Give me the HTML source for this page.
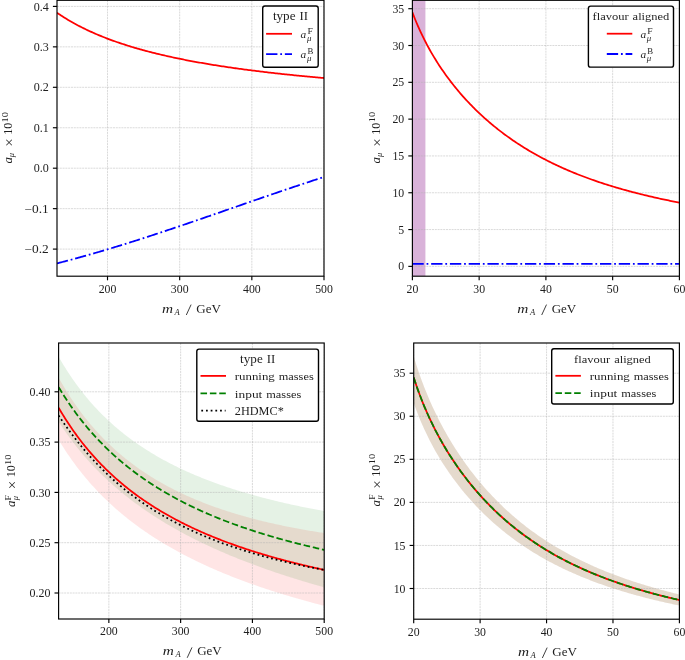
<!DOCTYPE html>
<html><head><meta charset="utf-8"><title>a_mu plots</title>
<style>html,body{margin:0;padding:0;background:#fff;width:685px;height:660px;overflow:hidden}svg{display:block;will-change:transform}text{font-family:"Liberation Serif",serif}</style>
</head><body>
<svg width="685" height="660" viewBox="0 0 685 660" font-family="Liberation Serif, serif" fill="#1e1e1e">
<rect width="685" height="660" fill="#fff"/>
<defs>
<clipPath id="c1"><rect x="57.00" y="0.30" width="267.00" height="275.90"/></clipPath>
<clipPath id="c2"><rect x="412.40" y="0.30" width="267.00" height="275.90"/></clipPath>
<clipPath id="c3"><rect x="58.60" y="343.00" width="265.60" height="276.00"/></clipPath>
<clipPath id="c4"><rect x="413.70" y="343.00" width="265.70" height="276.20"/></clipPath>
</defs>
<g clip-path="url(#c1)">
<line x1="107.51" y1="0.30" x2="107.51" y2="276.20" stroke="#b0b0b0" stroke-opacity="0.6" stroke-width="0.8" stroke-dasharray="2.0 0.8"/>
<line x1="179.68" y1="0.30" x2="179.68" y2="276.20" stroke="#b0b0b0" stroke-opacity="0.6" stroke-width="0.8" stroke-dasharray="2.0 0.8"/>
<line x1="251.84" y1="0.30" x2="251.84" y2="276.20" stroke="#b0b0b0" stroke-opacity="0.6" stroke-width="0.8" stroke-dasharray="2.0 0.8"/>
<line x1="324.00" y1="0.30" x2="324.00" y2="276.20" stroke="#b0b0b0" stroke-opacity="0.6" stroke-width="0.8" stroke-dasharray="2.0 0.8"/>
<line x1="57.00" y1="249.10" x2="324.00" y2="249.10" stroke="#b0b0b0" stroke-opacity="0.6" stroke-width="0.8" stroke-dasharray="2.0 0.8"/>
<line x1="57.00" y1="208.65" x2="324.00" y2="208.65" stroke="#b0b0b0" stroke-opacity="0.6" stroke-width="0.8" stroke-dasharray="2.0 0.8"/>
<line x1="57.00" y1="168.20" x2="324.00" y2="168.20" stroke="#b0b0b0" stroke-opacity="0.6" stroke-width="0.8" stroke-dasharray="2.0 0.8"/>
<line x1="57.00" y1="127.75" x2="324.00" y2="127.75" stroke="#b0b0b0" stroke-opacity="0.6" stroke-width="0.8" stroke-dasharray="2.0 0.8"/>
<line x1="57.00" y1="87.30" x2="324.00" y2="87.30" stroke="#b0b0b0" stroke-opacity="0.6" stroke-width="0.8" stroke-dasharray="2.0 0.8"/>
<line x1="57.00" y1="46.85" x2="324.00" y2="46.85" stroke="#b0b0b0" stroke-opacity="0.6" stroke-width="0.8" stroke-dasharray="2.0 0.8"/>
<line x1="57.00" y1="6.40" x2="324.00" y2="6.40" stroke="#b0b0b0" stroke-opacity="0.6" stroke-width="0.8" stroke-dasharray="2.0 0.8"/>
<path d="M57.00,12.79 L58.34,13.70 L59.68,14.60 L61.03,15.49 L62.37,16.35 L63.71,17.21 L65.05,18.04 L66.39,18.87 L67.73,19.68 L69.08,20.47 L70.42,21.25 L71.76,22.02 L73.10,22.78 L74.44,23.52 L75.78,24.25 L77.13,24.97 L78.47,25.68 L79.81,26.38 L81.15,27.06 L82.49,27.74 L83.83,28.40 L85.18,29.06 L86.52,29.70 L87.86,30.34 L89.20,30.96 L90.54,31.58 L91.88,32.18 L93.23,32.78 L94.57,33.37 L95.91,33.95 L97.25,34.52 L98.59,35.09 L99.93,35.64 L101.28,36.19 L102.62,36.73 L103.96,37.27 L105.30,37.79 L106.64,38.31 L107.98,38.82 L109.33,39.33 L110.67,39.82 L112.01,40.32 L113.35,40.80 L114.69,41.28 L116.04,41.75 L117.38,42.22 L118.72,42.68 L120.06,43.13 L121.40,43.58 L122.74,44.03 L124.09,44.46 L125.43,44.90 L126.77,45.32 L128.11,45.74 L129.45,46.16 L130.79,46.57 L132.14,46.98 L133.48,47.38 L134.82,47.78 L136.16,48.17 L137.50,48.56 L138.84,48.94 L140.19,49.32 L141.53,49.69 L142.87,50.06 L144.21,50.43 L145.55,50.79 L146.89,51.15 L148.24,51.50 L149.58,51.85 L150.92,52.20 L152.26,52.54 L153.60,52.88 L154.94,53.21 L156.29,53.54 L157.63,53.87 L158.97,54.19 L160.31,54.51 L161.65,54.83 L162.99,55.14 L164.34,55.45 L165.68,55.76 L167.02,56.06 L168.36,56.37 L169.70,56.66 L171.05,56.96 L172.39,57.25 L173.73,57.54 L175.07,57.82 L176.41,58.11 L177.75,58.39 L179.10,58.66 L180.44,58.94 L181.78,59.21 L183.12,59.48 L184.46,59.75 L185.80,60.01 L187.15,60.27 L188.49,60.53 L189.83,60.79 L191.17,61.04 L192.51,61.29 L193.85,61.54 L195.20,61.79 L196.54,62.03 L197.88,62.27 L199.22,62.51 L200.56,62.75 L201.90,62.99 L203.25,63.22 L204.59,63.45 L205.93,63.68 L207.27,63.91 L208.61,64.13 L209.95,64.36 L211.30,64.58 L212.64,64.80 L213.98,65.01 L215.32,65.23 L216.66,65.44 L218.01,65.65 L219.35,65.86 L220.69,66.07 L222.03,66.28 L223.37,66.48 L224.71,66.69 L226.06,66.89 L227.40,67.09 L228.74,67.28 L230.08,67.48 L231.42,67.67 L232.76,67.87 L234.11,68.06 L235.45,68.25 L236.79,68.43 L238.13,68.62 L239.47,68.80 L240.81,68.99 L242.16,69.17 L243.50,69.35 L244.84,69.53 L246.18,69.71 L247.52,69.88 L248.86,70.06 L250.21,70.23 L251.55,70.40 L252.89,70.57 L254.23,70.74 L255.57,70.91 L256.91,71.08 L258.26,71.24 L259.60,71.40 L260.94,71.57 L262.28,71.73 L263.62,71.89 L264.96,72.05 L266.31,72.21 L267.65,72.36 L268.99,72.52 L270.33,72.67 L271.67,72.82 L273.02,72.98 L274.36,73.13 L275.70,73.28 L277.04,73.42 L278.38,73.57 L279.72,73.72 L281.07,73.86 L282.41,74.01 L283.75,74.15 L285.09,74.29 L286.43,74.43 L287.77,74.57 L289.12,74.71 L290.46,74.85 L291.80,74.99 L293.14,75.12 L294.48,75.26 L295.82,75.39 L297.17,75.53 L298.51,75.66 L299.85,75.79 L301.19,75.92 L302.53,76.05 L303.87,76.18 L305.22,76.30 L306.56,76.43 L307.90,76.56 L309.24,76.68 L310.58,76.81 L311.92,76.93 L313.27,77.05 L314.61,77.17 L315.95,77.29 L317.29,77.41 L318.63,77.53 L319.97,77.65 L321.32,77.77 L322.66,77.89 L324.00,78.00" fill="none" stroke="#ff0000" stroke-width="1.77"/>
<path d="M57.00,263.37 L58.34,263.03 L59.68,262.69 L61.03,262.34 L62.37,262.00 L63.71,261.65 L65.05,261.30 L66.39,260.95 L67.73,260.59 L69.08,260.24 L70.42,259.88 L71.76,259.52 L73.10,259.16 L74.44,258.79 L75.78,258.43 L77.13,258.06 L78.47,257.70 L79.81,257.33 L81.15,256.95 L82.49,256.58 L83.83,256.21 L85.18,255.83 L86.52,255.45 L87.86,255.07 L89.20,254.69 L90.54,254.31 L91.88,253.93 L93.23,253.54 L94.57,253.15 L95.91,252.76 L97.25,252.37 L98.59,251.98 L99.93,251.59 L101.28,251.19 L102.62,250.80 L103.96,250.40 L105.30,250.00 L106.64,249.60 L107.98,249.20 L109.33,248.80 L110.67,248.39 L112.01,247.99 L113.35,247.58 L114.69,247.17 L116.04,246.76 L117.38,246.35 L118.72,245.94 L120.06,245.53 L121.40,245.11 L122.74,244.70 L124.09,244.28 L125.43,243.86 L126.77,243.45 L128.11,243.02 L129.45,242.60 L130.79,242.18 L132.14,241.76 L133.48,241.33 L134.82,240.91 L136.16,240.48 L137.50,240.05 L138.84,239.62 L140.19,239.19 L141.53,238.76 L142.87,238.33 L144.21,237.90 L145.55,237.46 L146.89,237.03 L148.24,236.59 L149.58,236.16 L150.92,235.72 L152.26,235.28 L153.60,234.84 L154.94,234.40 L156.29,233.96 L157.63,233.52 L158.97,233.07 L160.31,232.63 L161.65,232.19 L162.99,231.74 L164.34,231.30 L165.68,230.85 L167.02,230.40 L168.36,229.95 L169.70,229.50 L171.05,229.05 L172.39,228.60 L173.73,228.15 L175.07,227.70 L176.41,227.25 L177.75,226.80 L179.10,226.34 L180.44,225.89 L181.78,225.44 L183.12,224.98 L184.46,224.53 L185.80,224.07 L187.15,223.61 L188.49,223.16 L189.83,222.70 L191.17,222.24 L192.51,221.78 L193.85,221.32 L195.20,220.86 L196.54,220.40 L197.88,219.94 L199.22,219.48 L200.56,219.02 L201.90,218.56 L203.25,218.10 L204.59,217.64 L205.93,217.17 L207.27,216.71 L208.61,216.25 L209.95,215.79 L211.30,215.32 L212.64,214.86 L213.98,214.40 L215.32,213.93 L216.66,213.47 L218.01,213.00 L219.35,212.54 L220.69,212.07 L222.03,211.61 L223.37,211.14 L224.71,210.68 L226.06,210.21 L227.40,209.75 L228.74,209.28 L230.08,208.82 L231.42,208.35 L232.76,207.89 L234.11,207.42 L235.45,206.95 L236.79,206.49 L238.13,206.02 L239.47,205.56 L240.81,205.09 L242.16,204.63 L243.50,204.16 L244.84,203.70 L246.18,203.23 L247.52,202.77 L248.86,202.30 L250.21,201.84 L251.55,201.37 L252.89,200.91 L254.23,200.45 L255.57,199.98 L256.91,199.52 L258.26,199.06 L259.60,198.59 L260.94,198.13 L262.28,197.67 L263.62,197.21 L264.96,196.75 L266.31,196.28 L267.65,195.82 L268.99,195.36 L270.33,194.90 L271.67,194.44 L273.02,193.98 L274.36,193.52 L275.70,193.07 L277.04,192.61 L278.38,192.15 L279.72,191.69 L281.07,191.24 L282.41,190.78 L283.75,190.32 L285.09,189.87 L286.43,189.41 L287.77,188.96 L289.12,188.51 L290.46,188.05 L291.80,187.60 L293.14,187.15 L294.48,186.70 L295.82,186.25 L297.17,185.80 L298.51,185.35 L299.85,184.90 L301.19,184.46 L302.53,184.01 L303.87,183.56 L305.22,183.12 L306.56,182.67 L307.90,182.23 L309.24,181.79 L310.58,181.34 L311.92,180.90 L313.27,180.46 L314.61,180.02 L315.95,179.58 L317.29,179.15 L318.63,178.71 L319.97,178.27 L321.32,177.84 L322.66,177.41 L324.00,176.97" fill="none" stroke="#0000ff" stroke-width="1.77" stroke-dasharray="11.33 2.83 1.77 2.83"/>
</g>
<line x1="107.51" y1="276.20" x2="107.51" y2="280.30" stroke="#000" stroke-width="1.15"/>
<text x="98.66" y="292.60" font-size="11.6" textLength="17.70" lengthAdjust="spacingAndGlyphs">200</text>
<line x1="179.68" y1="276.20" x2="179.68" y2="280.30" stroke="#000" stroke-width="1.15"/>
<text x="170.83" y="292.60" font-size="11.6" textLength="17.70" lengthAdjust="spacingAndGlyphs">300</text>
<line x1="251.84" y1="276.20" x2="251.84" y2="280.30" stroke="#000" stroke-width="1.15"/>
<text x="242.99" y="292.60" font-size="11.6" textLength="17.70" lengthAdjust="spacingAndGlyphs">400</text>
<line x1="324.00" y1="276.20" x2="324.00" y2="280.30" stroke="#000" stroke-width="1.15"/>
<text x="315.15" y="292.60" font-size="11.6" textLength="17.70" lengthAdjust="spacingAndGlyphs">500</text>
<line x1="52.90" y1="249.10" x2="57.00" y2="249.10" stroke="#000" stroke-width="1.15"/>
<text x="24.54" y="253.20" font-size="11.6" textLength="24.26" lengthAdjust="spacingAndGlyphs">−0.2</text>
<line x1="52.90" y1="208.65" x2="57.00" y2="208.65" stroke="#000" stroke-width="1.15"/>
<text x="24.54" y="212.75" font-size="11.6" textLength="24.26" lengthAdjust="spacingAndGlyphs">−0.1</text>
<line x1="52.90" y1="168.20" x2="57.00" y2="168.20" stroke="#000" stroke-width="1.15"/>
<text x="33.72" y="172.30" font-size="11.6" textLength="15.08" lengthAdjust="spacingAndGlyphs">0.0</text>
<line x1="52.90" y1="127.75" x2="57.00" y2="127.75" stroke="#000" stroke-width="1.15"/>
<text x="33.72" y="131.85" font-size="11.6" textLength="15.08" lengthAdjust="spacingAndGlyphs">0.1</text>
<line x1="52.90" y1="87.30" x2="57.00" y2="87.30" stroke="#000" stroke-width="1.15"/>
<text x="33.72" y="91.40" font-size="11.6" textLength="15.08" lengthAdjust="spacingAndGlyphs">0.2</text>
<line x1="52.90" y1="46.85" x2="57.00" y2="46.85" stroke="#000" stroke-width="1.15"/>
<text x="33.72" y="50.95" font-size="11.6" textLength="15.08" lengthAdjust="spacingAndGlyphs">0.3</text>
<line x1="52.90" y1="6.40" x2="57.00" y2="6.40" stroke="#000" stroke-width="1.15"/>
<text x="33.72" y="10.50" font-size="11.6" textLength="15.08" lengthAdjust="spacingAndGlyphs">0.4</text>
<rect x="57.00" y="0.30" width="267.00" height="275.90" fill="none" stroke="#000" stroke-width="1.15"/>
<text x="0" y="0" font-size="11.6" font-style="italic" transform="translate(161.90,312.60) scale(1.32,1)">m</text>
<text x="174.50" y="314.60" font-size="8.6" font-style="italic">A</text>
<line x1="186.30" y1="315.00" x2="191.10" y2="304.60" stroke="#1e1e1e" stroke-width="0.85"/>
<text x="196.30" y="312.60" font-size="12.1" textLength="24.6" lengthAdjust="spacingAndGlyphs">GeV</text>
<g transform="translate(12.20,163.10) rotate(-90)">
<text x="-0.35" y="0" font-size="11.6" font-style="italic" transform="scale(1.1,1)">a</text>
<text x="5.9" y="2.1" font-size="8.4" font-style="italic">μ</text>
<text x="16.30" y="1.7" font-size="14.8">×</text>
<text x="28.30" y="0" font-size="11.8" textLength="12.0" lengthAdjust="spacingAndGlyphs">10</text>
<text x="40.70" y="-4.6" font-size="8.6" textLength="10.4" lengthAdjust="spacingAndGlyphs">10</text>
</g>
<rect x="262.70" y="6.00" width="55.50" height="61.30" rx="2.2" ry="2.2" fill="#fff" stroke="#000" stroke-width="1.4"/>
<text x="272.91" y="20.00" font-size="11.8" textLength="22.62" lengthAdjust="spacingAndGlyphs">type</text>
<text x="299.46" y="20.00" font-size="11.8" textLength="8.52" lengthAdjust="spacingAndGlyphs">II</text>
<line x1="266.1" y1="33.8" x2="292.0" y2="33.8" stroke="#ff0000" stroke-width="1.77"/>
<line x1="266.1" y1="54.2" x2="292.0" y2="54.2" stroke="#0000ff" stroke-width="1.77" stroke-dasharray="11.33 2.83 1.77 2.83"/>
<text x="300.60" y="37.80" font-size="11.3" font-style="italic">a</text>
<text x="307.50" y="34.00" font-size="8.8" textLength="5.4" lengthAdjust="spacingAndGlyphs">F</text>
<text x="306.90" y="40.80" font-size="8.8" font-style="italic">μ</text>
<text x="300.60" y="58.20" font-size="11.3" font-style="italic">a</text>
<text x="307.50" y="54.40" font-size="8.8" textLength="5.85" lengthAdjust="spacingAndGlyphs">B</text>
<text x="306.90" y="61.20" font-size="8.8" font-style="italic">μ</text>
<g clip-path="url(#c2)">
<rect x="412.40" y="0.30" width="13.02" height="275.90" fill="#800080" fill-opacity="0.3"/>
<line x1="412.40" y1="0.30" x2="412.40" y2="276.20" stroke="#b0b0b0" stroke-opacity="0.6" stroke-width="0.8" stroke-dasharray="2.0 0.8"/>
<line x1="479.15" y1="0.30" x2="479.15" y2="276.20" stroke="#b0b0b0" stroke-opacity="0.6" stroke-width="0.8" stroke-dasharray="2.0 0.8"/>
<line x1="545.90" y1="0.30" x2="545.90" y2="276.20" stroke="#b0b0b0" stroke-opacity="0.6" stroke-width="0.8" stroke-dasharray="2.0 0.8"/>
<line x1="612.65" y1="0.30" x2="612.65" y2="276.20" stroke="#b0b0b0" stroke-opacity="0.6" stroke-width="0.8" stroke-dasharray="2.0 0.8"/>
<line x1="679.40" y1="0.30" x2="679.40" y2="276.20" stroke="#b0b0b0" stroke-opacity="0.6" stroke-width="0.8" stroke-dasharray="2.0 0.8"/>
<line x1="412.40" y1="266.37" x2="679.40" y2="266.37" stroke="#b0b0b0" stroke-opacity="0.6" stroke-width="0.8" stroke-dasharray="2.0 0.8"/>
<line x1="412.40" y1="229.56" x2="679.40" y2="229.56" stroke="#b0b0b0" stroke-opacity="0.6" stroke-width="0.8" stroke-dasharray="2.0 0.8"/>
<line x1="412.40" y1="192.75" x2="679.40" y2="192.75" stroke="#b0b0b0" stroke-opacity="0.6" stroke-width="0.8" stroke-dasharray="2.0 0.8"/>
<line x1="412.40" y1="155.94" x2="679.40" y2="155.94" stroke="#b0b0b0" stroke-opacity="0.6" stroke-width="0.8" stroke-dasharray="2.0 0.8"/>
<line x1="412.40" y1="119.13" x2="679.40" y2="119.13" stroke="#b0b0b0" stroke-opacity="0.6" stroke-width="0.8" stroke-dasharray="2.0 0.8"/>
<line x1="412.40" y1="82.32" x2="679.40" y2="82.32" stroke="#b0b0b0" stroke-opacity="0.6" stroke-width="0.8" stroke-dasharray="2.0 0.8"/>
<line x1="412.40" y1="45.51" x2="679.40" y2="45.51" stroke="#b0b0b0" stroke-opacity="0.6" stroke-width="0.8" stroke-dasharray="2.0 0.8"/>
<line x1="412.40" y1="8.70" x2="679.40" y2="8.70" stroke="#b0b0b0" stroke-opacity="0.6" stroke-width="0.8" stroke-dasharray="2.0 0.8"/>
<path d="M412.40,12.41 L413.74,15.89 L415.08,19.25 L416.43,22.50 L417.77,25.63 L419.11,28.66 L420.45,31.60 L421.79,34.45 L423.13,37.22 L424.48,39.90 L425.82,42.52 L427.16,45.06 L428.50,47.54 L429.84,49.96 L431.18,52.32 L432.53,54.63 L433.87,56.88 L435.21,59.08 L436.55,61.24 L437.89,63.35 L439.23,65.41 L440.58,67.44 L441.92,69.43 L443.26,71.37 L444.60,73.28 L445.94,75.16 L447.28,77.00 L448.63,78.81 L449.97,80.59 L451.31,82.34 L452.65,84.05 L453.99,85.74 L455.33,87.41 L456.68,89.04 L458.02,90.65 L459.36,92.24 L460.70,93.80 L462.04,95.33 L463.38,96.84 L464.73,98.34 L466.07,99.80 L467.41,101.25 L468.75,102.68 L470.09,104.08 L471.44,105.47 L472.78,106.83 L474.12,108.18 L475.46,109.51 L476.80,110.82 L478.14,112.11 L479.49,113.39 L480.83,114.65 L482.17,115.89 L483.51,117.11 L484.85,118.32 L486.19,119.51 L487.54,120.69 L488.88,121.85 L490.22,122.99 L491.56,124.12 L492.90,125.24 L494.24,126.34 L495.59,127.43 L496.93,128.50 L498.27,129.57 L499.61,130.61 L500.95,131.65 L502.29,132.67 L503.64,133.68 L504.98,134.67 L506.32,135.66 L507.66,136.63 L509.00,137.59 L510.34,138.54 L511.69,139.47 L513.03,140.40 L514.37,141.31 L515.71,142.21 L517.05,143.11 L518.39,143.99 L519.74,144.86 L521.08,145.72 L522.42,146.57 L523.76,147.41 L525.10,148.24 L526.45,149.06 L527.79,149.87 L529.13,150.67 L530.47,151.46 L531.81,152.24 L533.15,153.02 L534.50,153.78 L535.84,154.54 L537.18,155.28 L538.52,156.02 L539.86,156.75 L541.20,157.47 L542.55,158.19 L543.89,158.89 L545.23,159.59 L546.57,160.28 L547.91,160.96 L549.25,161.64 L550.60,162.30 L551.94,162.96 L553.28,163.61 L554.62,164.26 L555.96,164.89 L557.30,165.52 L558.65,166.15 L559.99,166.76 L561.33,167.37 L562.67,167.98 L564.01,168.57 L565.35,169.16 L566.70,169.75 L568.04,170.32 L569.38,170.89 L570.72,171.46 L572.06,172.02 L573.41,172.57 L574.75,173.12 L576.09,173.66 L577.43,174.20 L578.77,174.72 L580.11,175.25 L581.46,175.77 L582.80,176.28 L584.14,176.79 L585.48,177.29 L586.82,177.79 L588.16,178.28 L589.51,178.77 L590.85,179.25 L592.19,179.73 L593.53,180.20 L594.87,180.67 L596.21,181.13 L597.56,181.59 L598.90,182.04 L600.24,182.49 L601.58,182.94 L602.92,183.38 L604.26,183.81 L605.61,184.24 L606.95,184.67 L608.29,185.09 L609.63,185.51 L610.97,185.92 L612.31,186.33 L613.66,186.74 L615.00,187.14 L616.34,187.54 L617.68,187.94 L619.02,188.33 L620.36,188.71 L621.71,189.10 L623.05,189.48 L624.39,189.85 L625.73,190.22 L627.07,190.59 L628.42,190.96 L629.76,191.32 L631.10,191.68 L632.44,192.03 L633.78,192.39 L635.12,192.73 L636.47,193.08 L637.81,193.42 L639.15,193.76 L640.49,194.10 L641.83,194.43 L643.17,194.76 L644.52,195.08 L645.86,195.41 L647.20,195.73 L648.54,196.05 L649.88,196.36 L651.22,196.67 L652.57,196.98 L653.91,197.29 L655.25,197.59 L656.59,197.89 L657.93,198.19 L659.27,198.49 L660.62,198.78 L661.96,199.07 L663.30,199.36 L664.64,199.64 L665.98,199.92 L667.32,200.20 L668.67,200.48 L670.01,200.76 L671.35,201.03 L672.69,201.30 L674.03,201.57 L675.37,201.84 L676.72,202.10 L678.06,202.36 L679.40,202.62" fill="none" stroke="#ff0000" stroke-width="1.77"/>
<line x1="412.40" y1="263.79" x2="679.40" y2="263.79" stroke="#0000ff" stroke-width="1.77" stroke-dasharray="11.33 2.83 1.77 2.83"/>
</g>
<line x1="412.40" y1="276.20" x2="412.40" y2="280.30" stroke="#000" stroke-width="1.15"/>
<text x="406.50" y="292.60" font-size="11.6" textLength="11.80" lengthAdjust="spacingAndGlyphs">20</text>
<line x1="479.15" y1="276.20" x2="479.15" y2="280.30" stroke="#000" stroke-width="1.15"/>
<text x="473.25" y="292.60" font-size="11.6" textLength="11.80" lengthAdjust="spacingAndGlyphs">30</text>
<line x1="545.90" y1="276.20" x2="545.90" y2="280.30" stroke="#000" stroke-width="1.15"/>
<text x="540.00" y="292.60" font-size="11.6" textLength="11.80" lengthAdjust="spacingAndGlyphs">40</text>
<line x1="612.65" y1="276.20" x2="612.65" y2="280.30" stroke="#000" stroke-width="1.15"/>
<text x="606.75" y="292.60" font-size="11.6" textLength="11.80" lengthAdjust="spacingAndGlyphs">50</text>
<line x1="679.40" y1="276.20" x2="679.40" y2="280.30" stroke="#000" stroke-width="1.15"/>
<text x="673.50" y="292.60" font-size="11.6" textLength="11.80" lengthAdjust="spacingAndGlyphs">60</text>
<line x1="408.30" y1="266.37" x2="412.40" y2="266.37" stroke="#000" stroke-width="1.15"/>
<text x="398.30" y="270.47" font-size="11.6" textLength="5.90" lengthAdjust="spacingAndGlyphs">0</text>
<line x1="408.30" y1="229.56" x2="412.40" y2="229.56" stroke="#000" stroke-width="1.15"/>
<text x="398.30" y="233.66" font-size="11.6" textLength="5.90" lengthAdjust="spacingAndGlyphs">5</text>
<line x1="408.30" y1="192.75" x2="412.40" y2="192.75" stroke="#000" stroke-width="1.15"/>
<text x="392.40" y="196.85" font-size="11.6" textLength="11.80" lengthAdjust="spacingAndGlyphs">10</text>
<line x1="408.30" y1="155.94" x2="412.40" y2="155.94" stroke="#000" stroke-width="1.15"/>
<text x="392.40" y="160.04" font-size="11.6" textLength="11.80" lengthAdjust="spacingAndGlyphs">15</text>
<line x1="408.30" y1="119.13" x2="412.40" y2="119.13" stroke="#000" stroke-width="1.15"/>
<text x="392.40" y="123.23" font-size="11.6" textLength="11.80" lengthAdjust="spacingAndGlyphs">20</text>
<line x1="408.30" y1="82.32" x2="412.40" y2="82.32" stroke="#000" stroke-width="1.15"/>
<text x="392.40" y="86.42" font-size="11.6" textLength="11.80" lengthAdjust="spacingAndGlyphs">25</text>
<line x1="408.30" y1="45.51" x2="412.40" y2="45.51" stroke="#000" stroke-width="1.15"/>
<text x="392.40" y="49.61" font-size="11.6" textLength="11.80" lengthAdjust="spacingAndGlyphs">30</text>
<line x1="408.30" y1="8.70" x2="412.40" y2="8.70" stroke="#000" stroke-width="1.15"/>
<text x="392.40" y="12.80" font-size="11.6" textLength="11.80" lengthAdjust="spacingAndGlyphs">35</text>
<rect x="412.40" y="0.30" width="267.00" height="275.90" fill="none" stroke="#000" stroke-width="1.15"/>
<text x="0" y="0" font-size="11.6" font-style="italic" transform="translate(517.30,312.60) scale(1.32,1)">m</text>
<text x="529.90" y="314.60" font-size="8.6" font-style="italic">A</text>
<line x1="541.70" y1="315.00" x2="546.50" y2="304.60" stroke="#1e1e1e" stroke-width="0.85"/>
<text x="551.70" y="312.60" font-size="12.1" textLength="24.6" lengthAdjust="spacingAndGlyphs">GeV</text>
<g transform="translate(380.00,163.00) rotate(-90)">
<text x="-0.35" y="0" font-size="11.6" font-style="italic" transform="scale(1.1,1)">a</text>
<text x="5.9" y="2.1" font-size="8.4" font-style="italic">μ</text>
<text x="16.30" y="1.7" font-size="14.8">×</text>
<text x="28.30" y="0" font-size="11.8" textLength="12.0" lengthAdjust="spacingAndGlyphs">10</text>
<text x="40.70" y="-4.6" font-size="8.6" textLength="10.4" lengthAdjust="spacingAndGlyphs">10</text>
</g>
<rect x="588.40" y="6.10" width="85.10" height="61.00" rx="2.2" ry="2.2" fill="#fff" stroke="#000" stroke-width="1.4"/>
<text x="592.58" y="20.30" font-size="11.2" textLength="36.09" lengthAdjust="spacingAndGlyphs">flavour</text>
<text x="632.61" y="20.30" font-size="11.2" textLength="36.71" lengthAdjust="spacingAndGlyphs">aligned</text>
<line x1="606.8" y1="33.7" x2="632.3" y2="33.7" stroke="#ff0000" stroke-width="1.77"/>
<line x1="606.8" y1="54.0" x2="632.3" y2="54.0" stroke="#0000ff" stroke-width="1.77" stroke-dasharray="11.33 2.83 1.77 2.83"/>
<text x="640.40" y="37.70" font-size="11.3" font-style="italic">a</text>
<text x="647.30" y="33.90" font-size="8.8" textLength="5.4" lengthAdjust="spacingAndGlyphs">F</text>
<text x="646.70" y="40.70" font-size="8.8" font-style="italic">μ</text>
<text x="640.40" y="58.00" font-size="11.3" font-style="italic">a</text>
<text x="647.30" y="54.20" font-size="8.8" textLength="5.85" lengthAdjust="spacingAndGlyphs">B</text>
<text x="646.70" y="61.00" font-size="8.8" font-style="italic">μ</text>
<g clip-path="url(#c3)">
<path d="M58.60,377.65 L59.93,380.02 L61.27,382.34 L62.60,384.62 L63.94,386.87 L65.27,389.07 L66.61,391.23 L67.94,393.35 L69.28,395.44 L70.61,397.49 L71.95,399.51 L73.28,401.49 L74.62,403.44 L75.95,405.35 L77.29,407.23 L78.62,409.08 L79.95,410.90 L81.29,412.69 L82.62,414.44 L83.96,416.17 L85.29,417.88 L86.63,419.55 L87.96,421.20 L89.30,422.82 L90.63,424.41 L91.97,425.98 L93.30,427.53 L94.64,429.05 L95.97,430.55 L97.31,432.02 L98.64,433.47 L99.97,434.90 L101.31,436.31 L102.64,437.70 L103.98,439.06 L105.31,440.41 L106.65,441.73 L107.98,443.04 L109.32,444.32 L110.65,445.59 L111.99,446.84 L113.32,448.07 L114.66,449.28 L115.99,450.48 L117.33,451.66 L118.66,452.82 L119.99,453.97 L121.33,455.10 L122.66,456.21 L124.00,457.31 L125.33,458.39 L126.67,459.46 L128.00,460.51 L129.34,461.55 L130.67,462.58 L132.01,463.59 L133.34,464.59 L134.68,465.57 L136.01,466.54 L137.35,467.50 L138.68,468.45 L140.02,469.38 L141.35,470.30 L142.68,471.21 L144.02,472.11 L145.35,473.00 L146.69,473.87 L148.02,474.73 L149.36,475.59 L150.69,476.43 L152.03,477.26 L153.36,478.08 L154.70,478.89 L156.03,479.69 L157.37,480.48 L158.70,481.26 L160.04,482.03 L161.37,482.79 L162.70,483.54 L164.04,484.29 L165.37,485.02 L166.71,485.75 L168.04,486.46 L169.38,487.17 L170.71,487.87 L172.05,488.56 L173.38,489.24 L174.72,489.92 L176.05,490.58 L177.39,491.24 L178.72,491.89 L180.06,492.53 L181.39,493.17 L182.72,493.80 L184.06,494.42 L185.39,495.03 L186.73,495.64 L188.06,496.24 L189.40,496.83 L190.73,497.42 L192.07,498.00 L193.40,498.57 L194.74,499.13 L196.07,499.69 L197.41,500.25 L198.74,500.80 L200.08,501.34 L201.41,501.87 L202.74,502.40 L204.08,502.92 L205.41,503.44 L206.75,503.95 L208.08,504.46 L209.42,504.96 L210.75,505.45 L212.09,505.94 L213.42,506.43 L214.76,506.91 L216.09,507.38 L217.43,507.85 L218.76,508.31 L220.10,508.77 L221.43,509.22 L222.76,509.67 L224.10,510.12 L225.43,510.55 L226.77,510.99 L228.10,511.42 L229.44,511.84 L230.77,512.26 L232.11,512.68 L233.44,513.09 L234.78,513.50 L236.11,513.90 L237.45,514.30 L238.78,514.69 L240.12,515.08 L241.45,515.47 L242.78,515.85 L244.12,516.23 L245.45,516.60 L246.79,516.97 L248.12,517.34 L249.46,517.70 L250.79,518.06 L252.13,518.42 L253.46,518.77 L254.80,519.12 L256.13,519.46 L257.47,519.80 L258.80,520.14 L260.14,520.47 L261.47,520.80 L262.81,521.13 L264.14,521.45 L265.47,521.77 L266.81,522.09 L268.14,522.40 L269.48,522.71 L270.81,523.02 L272.15,523.32 L273.48,523.62 L274.82,523.92 L276.15,524.21 L277.49,524.51 L278.82,524.79 L280.16,525.08 L281.49,525.36 L282.83,525.64 L284.16,525.92 L285.49,526.19 L286.83,526.46 L288.16,526.73 L289.50,527.00 L290.83,527.26 L292.17,527.52 L293.50,527.78 L294.84,528.03 L296.17,528.29 L297.51,528.54 L298.84,528.78 L300.18,529.03 L301.51,529.27 L302.85,529.51 L304.18,529.75 L305.51,529.98 L306.85,530.22 L308.18,530.45 L309.52,530.67 L310.85,530.90 L312.19,531.12 L313.52,531.34 L314.86,531.56 L316.19,531.78 L317.53,531.99 L318.86,532.20 L320.20,532.41 L321.53,532.62 L322.87,532.83 L324.20,533.03 L324.20,605.83 L322.87,605.49 L321.53,605.15 L320.20,604.80 L318.86,604.45 L317.53,604.10 L316.19,603.75 L314.86,603.40 L313.52,603.04 L312.19,602.68 L310.85,602.32 L309.52,601.96 L308.18,601.60 L306.85,601.23 L305.51,600.86 L304.18,600.49 L302.85,600.12 L301.51,599.74 L300.18,599.37 L298.84,598.99 L297.51,598.60 L296.17,598.22 L294.84,597.84 L293.50,597.45 L292.17,597.06 L290.83,596.66 L289.50,596.27 L288.16,595.87 L286.83,595.47 L285.49,595.07 L284.16,594.66 L282.83,594.26 L281.49,593.85 L280.16,593.43 L278.82,593.02 L277.49,592.60 L276.15,592.18 L274.82,591.76 L273.48,591.33 L272.15,590.91 L270.81,590.47 L269.48,590.04 L268.14,589.60 L266.81,589.17 L265.47,588.72 L264.14,588.28 L262.81,587.83 L261.47,587.38 L260.14,586.93 L258.80,586.47 L257.47,586.01 L256.13,585.55 L254.80,585.08 L253.46,584.61 L252.13,584.14 L250.79,583.67 L249.46,583.19 L248.12,582.71 L246.79,582.22 L245.45,581.73 L244.12,581.24 L242.78,580.75 L241.45,580.25 L240.12,579.75 L238.78,579.24 L237.45,578.73 L236.11,578.22 L234.78,577.70 L233.44,577.18 L232.11,576.66 L230.77,576.13 L229.44,575.60 L228.10,575.07 L226.77,574.53 L225.43,573.98 L224.10,573.44 L222.76,572.89 L221.43,572.33 L220.10,571.77 L218.76,571.21 L217.43,570.64 L216.09,570.07 L214.76,569.49 L213.42,568.91 L212.09,568.32 L210.75,567.73 L209.42,567.14 L208.08,566.54 L206.75,565.94 L205.41,565.33 L204.08,564.71 L202.74,564.09 L201.41,563.47 L200.08,562.84 L198.74,562.21 L197.41,561.57 L196.07,560.93 L194.74,560.28 L193.40,559.62 L192.07,558.96 L190.73,558.29 L189.40,557.62 L188.06,556.95 L186.73,556.26 L185.39,555.57 L184.06,554.88 L182.72,554.18 L181.39,553.47 L180.06,552.76 L178.72,552.04 L177.39,551.31 L176.05,550.58 L174.72,549.84 L173.38,549.10 L172.05,548.34 L170.71,547.58 L169.38,546.82 L168.04,546.04 L166.71,545.26 L165.37,544.48 L164.04,543.68 L162.70,542.88 L161.37,542.07 L160.04,541.25 L158.70,540.42 L157.37,539.59 L156.03,538.75 L154.70,537.90 L153.36,537.04 L152.03,536.17 L150.69,535.29 L149.36,534.41 L148.02,533.51 L146.69,532.61 L145.35,531.70 L144.02,530.77 L142.68,529.84 L141.35,528.90 L140.02,527.95 L138.68,526.99 L137.35,526.01 L136.01,525.03 L134.68,524.04 L133.34,523.03 L132.01,522.02 L130.67,520.99 L129.34,519.95 L128.00,518.90 L126.67,517.84 L125.33,516.77 L124.00,515.68 L122.66,514.58 L121.33,513.47 L119.99,512.34 L118.66,511.21 L117.33,510.05 L115.99,508.89 L114.66,507.71 L113.32,506.51 L111.99,505.30 L110.65,504.08 L109.32,502.84 L107.98,501.58 L106.65,500.31 L105.31,499.02 L103.98,497.71 L102.64,496.39 L101.31,495.05 L99.97,493.69 L98.64,492.31 L97.31,490.92 L95.97,489.50 L94.64,488.07 L93.30,486.61 L91.97,485.14 L90.63,483.64 L89.30,482.13 L87.96,480.59 L86.63,479.02 L85.29,477.44 L83.96,475.83 L82.62,474.19 L81.29,472.54 L79.95,470.85 L78.62,469.14 L77.29,467.40 L75.95,465.64 L74.62,463.84 L73.28,462.02 L71.95,460.17 L70.61,458.28 L69.28,456.37 L67.94,454.42 L66.61,452.44 L65.27,450.42 L63.94,448.37 L62.60,446.28 L61.27,444.15 L59.93,441.99 L58.60,439.78 Z" fill="#ff0000" fill-opacity="0.1"/>
<path d="M58.60,356.61 L59.93,358.95 L61.27,361.24 L62.60,363.49 L63.94,365.69 L65.27,367.85 L66.61,369.97 L67.94,372.05 L69.28,374.09 L70.61,376.09 L71.95,378.05 L73.28,379.98 L74.62,381.87 L75.95,383.73 L77.29,385.56 L78.62,387.35 L79.95,389.12 L81.29,390.85 L82.62,392.55 L83.96,394.22 L85.29,395.87 L86.63,397.49 L87.96,399.08 L89.30,400.64 L90.63,402.18 L91.97,403.70 L93.30,405.19 L94.64,406.65 L95.97,408.10 L97.31,409.52 L98.64,410.92 L99.97,412.29 L101.31,413.65 L102.64,414.98 L103.98,416.30 L105.31,417.60 L106.65,418.87 L107.98,420.13 L109.32,421.37 L110.65,422.59 L111.99,423.79 L113.32,424.98 L114.66,426.15 L115.99,427.30 L117.33,428.44 L118.66,429.56 L119.99,430.67 L121.33,431.76 L122.66,432.83 L124.00,433.89 L125.33,434.94 L126.67,435.97 L128.00,436.99 L129.34,438.00 L130.67,438.99 L132.01,439.97 L133.34,440.93 L134.68,441.89 L136.01,442.83 L137.35,443.76 L138.68,444.68 L140.02,445.58 L141.35,446.48 L142.68,447.36 L144.02,448.24 L145.35,449.10 L146.69,449.95 L148.02,450.79 L149.36,451.62 L150.69,452.45 L152.03,453.26 L153.36,454.06 L154.70,454.85 L156.03,455.63 L157.37,456.41 L158.70,457.17 L160.04,457.93 L161.37,458.67 L162.70,459.41 L164.04,460.14 L165.37,460.87 L166.71,461.58 L168.04,462.28 L169.38,462.98 L170.71,463.67 L172.05,464.35 L173.38,465.03 L174.72,465.70 L176.05,466.36 L177.39,467.01 L178.72,467.66 L180.06,468.29 L181.39,468.93 L182.72,469.55 L184.06,470.17 L185.39,470.78 L186.73,471.39 L188.06,471.99 L189.40,472.58 L190.73,473.17 L192.07,473.75 L193.40,474.32 L194.74,474.89 L196.07,475.45 L197.41,476.01 L198.74,476.56 L200.08,477.11 L201.41,477.65 L202.74,478.18 L204.08,478.71 L205.41,479.24 L206.75,479.76 L208.08,480.27 L209.42,480.78 L210.75,481.28 L212.09,481.78 L213.42,482.28 L214.76,482.76 L216.09,483.25 L217.43,483.73 L218.76,484.20 L220.10,484.68 L221.43,485.14 L222.76,485.60 L224.10,486.06 L225.43,486.51 L226.77,486.96 L228.10,487.41 L229.44,487.85 L230.77,488.28 L232.11,488.72 L233.44,489.15 L234.78,489.57 L236.11,489.99 L237.45,490.41 L238.78,490.82 L240.12,491.23 L241.45,491.63 L242.78,492.04 L244.12,492.43 L245.45,492.83 L246.79,493.22 L248.12,493.61 L249.46,493.99 L250.79,494.37 L252.13,494.75 L253.46,495.12 L254.80,495.49 L256.13,495.86 L257.47,496.23 L258.80,496.59 L260.14,496.94 L261.47,497.30 L262.81,497.65 L264.14,498.00 L265.47,498.34 L266.81,498.69 L268.14,499.03 L269.48,499.36 L270.81,499.70 L272.15,500.03 L273.48,500.36 L274.82,500.68 L276.15,501.00 L277.49,501.32 L278.82,501.64 L280.16,501.96 L281.49,502.27 L282.83,502.58 L284.16,502.89 L285.49,503.19 L286.83,503.49 L288.16,503.79 L289.50,504.09 L290.83,504.38 L292.17,504.67 L293.50,504.96 L294.84,505.25 L296.17,505.53 L297.51,505.82 L298.84,506.10 L300.18,506.38 L301.51,506.65 L302.85,506.92 L304.18,507.20 L305.51,507.46 L306.85,507.73 L308.18,508.00 L309.52,508.26 L310.85,508.52 L312.19,508.78 L313.52,509.03 L314.86,509.29 L316.19,509.54 L317.53,509.79 L318.86,510.04 L320.20,510.29 L321.53,510.53 L322.87,510.77 L324.20,511.01 L324.20,587.33 L322.87,586.96 L321.53,586.58 L320.20,586.21 L318.86,585.83 L317.53,585.45 L316.19,585.07 L314.86,584.69 L313.52,584.30 L312.19,583.91 L310.85,583.52 L309.52,583.13 L308.18,582.74 L306.85,582.34 L305.51,581.95 L304.18,581.55 L302.85,581.15 L301.51,580.74 L300.18,580.34 L298.84,579.93 L297.51,579.52 L296.17,579.10 L294.84,578.69 L293.50,578.27 L292.17,577.85 L290.83,577.43 L289.50,577.01 L288.16,576.58 L286.83,576.15 L285.49,575.72 L284.16,575.29 L282.83,574.85 L281.49,574.42 L280.16,573.97 L278.82,573.53 L277.49,573.09 L276.15,572.64 L274.82,572.19 L273.48,571.73 L272.15,571.28 L270.81,570.82 L269.48,570.36 L268.14,569.89 L266.81,569.43 L265.47,568.96 L264.14,568.48 L262.81,568.01 L261.47,567.53 L260.14,567.05 L258.80,566.57 L257.47,566.08 L256.13,565.59 L254.80,565.10 L253.46,564.60 L252.13,564.10 L250.79,563.60 L249.46,563.10 L248.12,562.59 L246.79,562.08 L245.45,561.56 L244.12,561.05 L242.78,560.53 L241.45,560.00 L240.12,559.47 L238.78,558.94 L237.45,558.41 L236.11,557.87 L234.78,557.33 L233.44,556.79 L232.11,556.24 L230.77,555.68 L229.44,555.13 L228.10,554.57 L226.77,554.01 L225.43,553.44 L224.10,552.87 L222.76,552.29 L221.43,551.72 L220.10,551.13 L218.76,550.55 L217.43,549.96 L216.09,549.36 L214.76,548.76 L213.42,548.16 L212.09,547.55 L210.75,546.94 L209.42,546.32 L208.08,545.70 L206.75,545.08 L205.41,544.45 L204.08,543.81 L202.74,543.18 L201.41,542.53 L200.08,541.88 L198.74,541.23 L197.41,540.57 L196.07,539.91 L194.74,539.24 L193.40,538.57 L192.07,537.89 L190.73,537.21 L189.40,536.52 L188.06,535.83 L186.73,535.13 L185.39,534.42 L184.06,533.71 L182.72,532.99 L181.39,532.27 L180.06,531.54 L178.72,530.81 L177.39,530.07 L176.05,529.33 L174.72,528.57 L173.38,527.82 L172.05,527.05 L170.71,526.28 L169.38,525.50 L168.04,524.72 L166.71,523.93 L165.37,523.13 L164.04,522.33 L162.70,521.52 L161.37,520.70 L160.04,519.87 L158.70,519.04 L157.37,518.20 L156.03,517.35 L154.70,516.50 L153.36,515.63 L152.03,514.76 L150.69,513.88 L149.36,513.00 L148.02,512.10 L146.69,511.20 L145.35,510.28 L144.02,509.36 L142.68,508.43 L141.35,507.49 L140.02,506.54 L138.68,505.59 L137.35,504.62 L136.01,503.64 L134.68,502.66 L133.34,501.66 L132.01,500.65 L130.67,499.64 L129.34,498.61 L128.00,497.57 L126.67,496.52 L125.33,495.46 L124.00,494.39 L122.66,493.31 L121.33,492.21 L119.99,491.11 L118.66,489.99 L117.33,488.86 L115.99,487.71 L114.66,486.56 L113.32,485.39 L111.99,484.20 L110.65,483.01 L109.32,481.80 L107.98,480.57 L106.65,479.33 L105.31,478.08 L103.98,476.81 L102.64,475.52 L101.31,474.22 L99.97,472.90 L98.64,471.57 L97.31,470.22 L95.97,468.85 L94.64,467.47 L93.30,466.06 L91.97,464.64 L90.63,463.20 L89.30,461.74 L87.96,460.26 L86.63,458.77 L85.29,457.25 L83.96,455.70 L82.62,454.14 L81.29,452.56 L79.95,450.95 L78.62,449.32 L77.29,447.66 L75.95,445.98 L74.62,444.28 L73.28,442.55 L71.95,440.79 L70.61,439.00 L69.28,437.19 L67.94,435.35 L66.61,433.48 L65.27,431.57 L63.94,429.64 L62.60,427.67 L61.27,425.68 L59.93,423.64 L58.60,421.57 Z" fill="#008000" fill-opacity="0.1"/>
<line x1="108.85" y1="343.00" x2="108.85" y2="619.00" stroke="#b0b0b0" stroke-opacity="0.6" stroke-width="0.8" stroke-dasharray="2.0 0.8"/>
<line x1="180.63" y1="343.00" x2="180.63" y2="619.00" stroke="#b0b0b0" stroke-opacity="0.6" stroke-width="0.8" stroke-dasharray="2.0 0.8"/>
<line x1="252.42" y1="343.00" x2="252.42" y2="619.00" stroke="#b0b0b0" stroke-opacity="0.6" stroke-width="0.8" stroke-dasharray="2.0 0.8"/>
<line x1="324.20" y1="343.00" x2="324.20" y2="619.00" stroke="#b0b0b0" stroke-opacity="0.6" stroke-width="0.8" stroke-dasharray="2.0 0.8"/>
<line x1="58.60" y1="593.00" x2="324.20" y2="593.00" stroke="#b0b0b0" stroke-opacity="0.6" stroke-width="0.8" stroke-dasharray="2.0 0.8"/>
<line x1="58.60" y1="542.70" x2="324.20" y2="542.70" stroke="#b0b0b0" stroke-opacity="0.6" stroke-width="0.8" stroke-dasharray="2.0 0.8"/>
<line x1="58.60" y1="492.40" x2="324.20" y2="492.40" stroke="#b0b0b0" stroke-opacity="0.6" stroke-width="0.8" stroke-dasharray="2.0 0.8"/>
<line x1="58.60" y1="442.10" x2="324.20" y2="442.10" stroke="#b0b0b0" stroke-opacity="0.6" stroke-width="0.8" stroke-dasharray="2.0 0.8"/>
<line x1="58.60" y1="391.80" x2="324.20" y2="391.80" stroke="#b0b0b0" stroke-opacity="0.6" stroke-width="0.8" stroke-dasharray="2.0 0.8"/>
<path d="M58.60,407.69 L59.93,409.96 L61.27,412.20 L62.60,414.40 L63.94,416.56 L65.27,418.68 L66.61,420.76 L67.94,422.81 L69.28,424.82 L70.61,426.79 L71.95,428.74 L73.28,430.65 L74.62,432.53 L75.95,434.38 L77.29,436.20 L78.62,437.99 L79.95,439.75 L81.29,441.48 L82.62,443.19 L83.96,444.87 L85.29,446.52 L86.63,448.15 L87.96,449.75 L89.30,451.33 L90.63,452.88 L91.97,454.41 L93.30,455.92 L94.64,457.41 L95.97,458.87 L97.31,460.32 L98.64,461.74 L99.97,463.15 L101.31,464.53 L102.64,465.89 L103.98,467.24 L105.31,468.56 L106.65,469.87 L107.98,471.16 L109.32,472.43 L110.65,473.69 L111.99,474.93 L113.32,476.15 L114.66,477.36 L115.99,478.55 L117.33,479.72 L118.66,480.88 L119.99,482.03 L121.33,483.16 L122.66,484.27 L124.00,485.38 L125.33,486.46 L126.67,487.54 L128.00,488.60 L129.34,489.65 L130.67,490.69 L132.01,491.71 L133.34,492.72 L134.68,493.72 L136.01,494.71 L137.35,495.68 L138.68,496.65 L140.02,497.60 L141.35,498.54 L142.68,499.47 L144.02,500.39 L145.35,501.30 L146.69,502.20 L148.02,503.09 L149.36,503.97 L150.69,504.84 L152.03,505.70 L153.36,506.55 L154.70,507.39 L156.03,508.22 L157.37,509.04 L158.70,509.86 L160.04,510.66 L161.37,511.46 L162.70,512.25 L164.04,513.03 L165.37,513.80 L166.71,514.56 L168.04,515.32 L169.38,516.06 L170.71,516.80 L172.05,517.54 L173.38,518.26 L174.72,518.98 L176.05,519.69 L177.39,520.39 L178.72,521.09 L180.06,521.78 L181.39,522.46 L182.72,523.14 L184.06,523.81 L185.39,524.47 L186.73,525.13 L188.06,525.78 L189.40,526.42 L190.73,527.06 L192.07,527.69 L193.40,528.32 L194.74,528.94 L196.07,529.55 L197.41,530.16 L198.74,530.76 L200.08,531.36 L201.41,531.95 L202.74,532.53 L204.08,533.11 L205.41,533.69 L206.75,534.26 L208.08,534.82 L209.42,535.38 L210.75,535.94 L212.09,536.49 L213.42,537.03 L214.76,537.57 L216.09,538.11 L217.43,538.64 L218.76,539.17 L220.10,539.69 L221.43,540.21 L222.76,540.72 L224.10,541.23 L225.43,541.73 L226.77,542.23 L228.10,542.73 L229.44,543.22 L230.77,543.70 L232.11,544.19 L233.44,544.67 L234.78,545.14 L236.11,545.61 L237.45,546.08 L238.78,546.54 L240.12,547.00 L241.45,547.46 L242.78,547.91 L244.12,548.36 L245.45,548.80 L246.79,549.24 L248.12,549.68 L249.46,550.12 L250.79,550.55 L252.13,550.97 L253.46,551.40 L254.80,551.82 L256.13,552.24 L257.47,552.65 L258.80,553.06 L260.14,553.47 L261.47,553.87 L262.81,554.27 L264.14,554.67 L265.47,555.07 L266.81,555.46 L268.14,555.85 L269.48,556.23 L270.81,556.62 L272.15,557.00 L273.48,557.38 L274.82,557.75 L276.15,558.12 L277.49,558.49 L278.82,558.86 L280.16,559.22 L281.49,559.58 L282.83,559.94 L284.16,560.30 L285.49,560.65 L286.83,561.00 L288.16,561.35 L289.50,561.69 L290.83,562.04 L292.17,562.38 L293.50,562.72 L294.84,563.05 L296.17,563.39 L297.51,563.72 L298.84,564.04 L300.18,564.37 L301.51,564.70 L302.85,565.02 L304.18,565.34 L305.51,565.65 L306.85,565.97 L308.18,566.28 L309.52,566.59 L310.85,566.90 L312.19,567.21 L313.52,567.51 L314.86,567.81 L316.19,568.11 L317.53,568.41 L318.86,568.71 L320.20,569.00 L321.53,569.29 L322.87,569.59 L324.20,569.87" fill="none" stroke="#ff0000" stroke-width="1.77"/>
<path d="M58.60,387.11 L59.93,389.32 L61.27,391.49 L62.60,393.63 L63.94,395.73 L65.27,397.80 L66.61,399.83 L67.94,401.83 L69.28,403.79 L70.61,405.73 L71.95,407.63 L73.28,409.51 L74.62,411.35 L75.95,413.17 L77.29,414.96 L78.62,416.72 L79.95,418.45 L81.29,420.16 L82.62,421.84 L83.96,423.50 L85.29,425.13 L86.63,426.74 L87.96,428.32 L89.30,429.88 L90.63,431.42 L91.97,432.94 L93.30,434.44 L94.64,435.91 L95.97,437.37 L97.31,438.80 L98.64,440.22 L99.97,441.61 L101.31,442.99 L102.64,444.35 L103.98,445.69 L105.31,447.01 L106.65,448.32 L107.98,449.60 L109.32,450.88 L110.65,452.13 L111.99,453.37 L113.32,454.59 L114.66,455.80 L115.99,456.99 L117.33,458.17 L118.66,459.33 L119.99,460.48 L121.33,461.61 L122.66,462.73 L124.00,463.84 L125.33,464.93 L126.67,466.01 L128.00,467.08 L129.34,468.13 L130.67,469.17 L132.01,470.20 L133.34,471.22 L134.68,472.22 L136.01,473.22 L137.35,474.20 L138.68,475.17 L140.02,476.13 L141.35,477.08 L142.68,478.02 L144.02,478.95 L145.35,479.87 L146.69,480.78 L148.02,481.68 L149.36,482.57 L150.69,483.44 L152.03,484.31 L153.36,485.17 L154.70,486.02 L156.03,486.87 L157.37,487.70 L158.70,488.52 L160.04,489.34 L161.37,490.15 L162.70,490.95 L164.04,491.74 L165.37,492.52 L166.71,493.29 L168.04,494.06 L169.38,494.82 L170.71,495.57 L172.05,496.31 L173.38,497.05 L174.72,497.78 L176.05,498.50 L177.39,499.22 L178.72,499.92 L180.06,500.63 L181.39,501.32 L182.72,502.01 L184.06,502.69 L185.39,503.36 L186.73,504.03 L188.06,504.69 L189.40,505.35 L190.73,506.00 L192.07,506.64 L193.40,507.28 L194.74,507.91 L196.07,508.54 L197.41,509.16 L198.74,509.77 L200.08,510.38 L201.41,510.98 L202.74,511.58 L204.08,512.17 L205.41,512.76 L206.75,513.34 L208.08,513.92 L209.42,514.49 L210.75,515.06 L212.09,515.62 L213.42,516.17 L214.76,516.73 L216.09,517.27 L217.43,517.82 L218.76,518.35 L220.10,518.89 L221.43,519.42 L222.76,519.94 L224.10,520.46 L225.43,520.97 L226.77,521.49 L228.10,521.99 L229.44,522.50 L230.77,522.99 L232.11,523.49 L233.44,523.98 L234.78,524.46 L236.11,524.95 L237.45,525.42 L238.78,525.90 L240.12,526.37 L241.45,526.84 L242.78,527.30 L244.12,527.76 L245.45,528.21 L246.79,528.67 L248.12,529.12 L249.46,529.56 L250.79,530.00 L252.13,530.44 L253.46,530.87 L254.80,531.31 L256.13,531.73 L257.47,532.16 L258.80,532.58 L260.14,533.00 L261.47,533.41 L262.81,533.82 L264.14,534.23 L265.47,534.64 L266.81,535.04 L268.14,535.44 L269.48,535.84 L270.81,536.23 L272.15,536.62 L273.48,537.01 L274.82,537.39 L276.15,537.77 L277.49,538.15 L278.82,538.53 L280.16,538.90 L281.49,539.27 L282.83,539.64 L284.16,540.01 L285.49,540.37 L286.83,540.73 L288.16,541.09 L289.50,541.44 L290.83,541.80 L292.17,542.15 L293.50,542.49 L294.84,542.84 L296.17,543.18 L297.51,543.52 L298.84,543.86 L300.18,544.19 L301.51,544.53 L302.85,544.86 L304.18,545.19 L305.51,545.51 L306.85,545.84 L308.18,546.16 L309.52,546.48 L310.85,546.80 L312.19,547.11 L313.52,547.42 L314.86,547.73 L316.19,548.04 L317.53,548.35 L318.86,548.65 L320.20,548.96 L321.53,549.26 L322.87,549.56 L324.20,549.85" fill="none" stroke="#008000" stroke-width="1.77" stroke-dasharray="6.55 2.83"/>
<path d="M58.60,415.44 L59.93,417.44 L61.27,419.42 L62.60,421.37 L63.94,423.29 L65.27,425.20 L66.61,427.07 L67.94,428.93 L69.28,430.76 L70.61,432.57 L71.95,434.36 L73.28,436.12 L74.62,437.86 L75.95,439.58 L77.29,441.27 L78.62,442.95 L79.95,444.60 L81.29,446.23 L82.62,447.84 L83.96,449.43 L85.29,451.00 L86.63,452.55 L87.96,454.08 L89.30,455.59 L90.63,457.08 L91.97,458.55 L93.30,460.01 L94.64,461.44 L95.97,462.86 L97.31,464.25 L98.64,465.63 L99.97,467.00 L101.31,468.34 L102.64,469.67 L103.98,470.98 L105.31,472.28 L106.65,473.56 L107.98,474.82 L109.32,476.07 L110.65,477.30 L111.99,478.52 L113.32,479.72 L114.66,480.91 L115.99,482.08 L117.33,483.24 L118.66,484.38 L119.99,485.51 L121.33,486.63 L122.66,487.73 L124.00,488.82 L125.33,489.90 L126.67,490.96 L128.00,492.02 L129.34,493.05 L130.67,494.08 L132.01,495.10 L133.34,496.10 L134.68,497.09 L136.01,498.07 L137.35,499.04 L138.68,499.99 L140.02,500.94 L141.35,501.87 L142.68,502.80 L144.02,503.71 L145.35,504.61 L146.69,505.51 L148.02,506.39 L149.36,507.26 L150.69,508.13 L152.03,508.98 L153.36,509.82 L154.70,510.66 L156.03,511.48 L157.37,512.30 L158.70,513.10 L160.04,513.90 L161.37,514.69 L162.70,515.47 L164.04,516.24 L165.37,517.01 L166.71,517.76 L168.04,518.51 L169.38,519.25 L170.71,519.98 L172.05,520.70 L173.38,521.42 L174.72,522.13 L176.05,522.83 L177.39,523.52 L178.72,524.21 L180.06,524.89 L181.39,525.56 L182.72,526.22 L184.06,526.88 L185.39,527.53 L186.73,528.17 L188.06,528.81 L189.40,529.44 L190.73,530.07 L192.07,530.68 L193.40,531.29 L194.74,531.90 L196.07,532.50 L197.41,533.09 L198.74,533.68 L200.08,534.26 L201.41,534.84 L202.74,535.40 L204.08,535.97 L205.41,536.53 L206.75,537.08 L208.08,537.63 L209.42,538.17 L210.75,538.70 L212.09,539.24 L213.42,539.76 L214.76,540.28 L216.09,540.80 L217.43,541.31 L218.76,541.81 L220.10,542.31 L221.43,542.81 L222.76,543.30 L224.10,543.79 L225.43,544.27 L226.77,544.74 L228.10,545.22 L229.44,545.68 L230.77,546.15 L232.11,546.61 L233.44,547.06 L234.78,547.51 L236.11,547.96 L237.45,548.40 L238.78,548.84 L240.12,549.27 L241.45,549.70 L242.78,550.12 L244.12,550.55 L245.45,550.96 L246.79,551.38 L248.12,551.79 L249.46,552.19 L250.79,552.59 L252.13,552.99 L253.46,553.39 L254.80,553.78 L256.13,554.17 L257.47,554.55 L258.80,554.93 L260.14,555.31 L261.47,555.68 L262.81,556.05 L264.14,556.42 L265.47,556.78 L266.81,557.14 L268.14,557.50 L269.48,557.85 L270.81,558.20 L272.15,558.55 L273.48,558.89 L274.82,559.23 L276.15,559.57 L277.49,559.90 L278.82,560.24 L280.16,560.56 L281.49,560.89 L282.83,561.21 L284.16,561.53 L285.49,561.85 L286.83,562.16 L288.16,562.48 L289.50,562.78 L290.83,563.09 L292.17,563.39 L293.50,563.69 L294.84,563.99 L296.17,564.29 L297.51,564.58 L298.84,564.87 L300.18,565.16 L301.51,565.44 L302.85,565.73 L304.18,566.00 L305.51,566.28 L306.85,566.56 L308.18,566.83 L309.52,567.10 L310.85,567.37 L312.19,567.63 L313.52,567.90 L314.86,568.16 L316.19,568.42 L317.53,568.67 L318.86,568.93 L320.20,569.18 L321.53,569.43 L322.87,569.68 L324.20,569.92" fill="none" stroke="#000" stroke-width="1.77" stroke-dasharray="1.77 2.92"/>
</g>
<line x1="108.85" y1="619.00" x2="108.85" y2="623.10" stroke="#000" stroke-width="1.15"/>
<text x="100.00" y="635.40" font-size="11.6" textLength="17.70" lengthAdjust="spacingAndGlyphs">200</text>
<line x1="180.63" y1="619.00" x2="180.63" y2="623.10" stroke="#000" stroke-width="1.15"/>
<text x="171.78" y="635.40" font-size="11.6" textLength="17.70" lengthAdjust="spacingAndGlyphs">300</text>
<line x1="252.42" y1="619.00" x2="252.42" y2="623.10" stroke="#000" stroke-width="1.15"/>
<text x="243.57" y="635.40" font-size="11.6" textLength="17.70" lengthAdjust="spacingAndGlyphs">400</text>
<line x1="324.20" y1="619.00" x2="324.20" y2="623.10" stroke="#000" stroke-width="1.15"/>
<text x="315.35" y="635.40" font-size="11.6" textLength="17.70" lengthAdjust="spacingAndGlyphs">500</text>
<line x1="54.50" y1="593.00" x2="58.60" y2="593.00" stroke="#000" stroke-width="1.15"/>
<text x="29.42" y="597.10" font-size="11.6" textLength="20.98" lengthAdjust="spacingAndGlyphs">0.20</text>
<line x1="54.50" y1="542.70" x2="58.60" y2="542.70" stroke="#000" stroke-width="1.15"/>
<text x="29.42" y="546.80" font-size="11.6" textLength="20.98" lengthAdjust="spacingAndGlyphs">0.25</text>
<line x1="54.50" y1="492.40" x2="58.60" y2="492.40" stroke="#000" stroke-width="1.15"/>
<text x="29.42" y="496.50" font-size="11.6" textLength="20.98" lengthAdjust="spacingAndGlyphs">0.30</text>
<line x1="54.50" y1="442.10" x2="58.60" y2="442.10" stroke="#000" stroke-width="1.15"/>
<text x="29.42" y="446.20" font-size="11.6" textLength="20.98" lengthAdjust="spacingAndGlyphs">0.35</text>
<line x1="54.50" y1="391.80" x2="58.60" y2="391.80" stroke="#000" stroke-width="1.15"/>
<text x="29.42" y="395.90" font-size="11.6" textLength="20.98" lengthAdjust="spacingAndGlyphs">0.40</text>
<rect x="58.60" y="343.00" width="265.60" height="276.00" fill="none" stroke="#000" stroke-width="1.15"/>
<text x="0" y="0" font-size="11.6" font-style="italic" transform="translate(162.80,655.40) scale(1.32,1)">m</text>
<text x="175.40" y="657.40" font-size="8.6" font-style="italic">A</text>
<line x1="187.20" y1="657.80" x2="192.00" y2="647.40" stroke="#1e1e1e" stroke-width="0.85"/>
<text x="197.20" y="655.40" font-size="12.1" textLength="24.6" lengthAdjust="spacingAndGlyphs">GeV</text>
<g transform="translate(15.40,506.60) rotate(-90)">
<text x="-0.35" y="0" font-size="11.6" font-style="italic" transform="scale(1.1,1)">a</text>
<text x="6.2" y="-4.7" font-size="8.8" textLength="5.3" lengthAdjust="spacingAndGlyphs">F</text>
<text x="6.4" y="2.1" font-size="8.4" font-style="italic">μ</text>
<text x="17.30" y="1.7" font-size="14.8">×</text>
<text x="29.30" y="0" font-size="11.8" textLength="12.0" lengthAdjust="spacingAndGlyphs">10</text>
<text x="41.70" y="-4.6" font-size="8.6" textLength="10.4" lengthAdjust="spacingAndGlyphs">10</text>
</g>
<rect x="196.80" y="349.10" width="121.70" height="72.20" rx="2.2" ry="2.2" fill="#fff" stroke="#000" stroke-width="1.4"/>
<text x="240.11" y="362.60" font-size="11.8" textLength="22.62" lengthAdjust="spacingAndGlyphs">type</text>
<text x="266.66" y="362.60" font-size="11.8" textLength="8.52" lengthAdjust="spacingAndGlyphs">II</text>
<line x1="200.5" y1="375.9" x2="226.0" y2="375.9" stroke="#ff0000" stroke-width="1.77"/>
<line x1="200.5" y1="393.3" x2="226.0" y2="393.3" stroke="#008000" stroke-width="1.77" stroke-dasharray="6.55 2.83"/>
<line x1="201.3" y1="410.6" x2="225.6" y2="410.6" stroke="#000" stroke-width="1.77" stroke-dasharray="1.77 2.92"/>
<text x="234.80" y="380.10" font-size="10.9" textLength="40.02" lengthAdjust="spacingAndGlyphs">running</text>
<text x="278.76" y="380.10" font-size="10.9" textLength="34.94" lengthAdjust="spacingAndGlyphs">masses</text>
<text x="234.80" y="397.50" font-size="10.9" textLength="27.54" lengthAdjust="spacingAndGlyphs">input</text>
<text x="266.27" y="397.50" font-size="10.9" textLength="34.94" lengthAdjust="spacingAndGlyphs">masses</text>
<text x="234.80" y="414.90" font-size="12.0" textLength="49.00" lengthAdjust="spacingAndGlyphs">2HDMC*</text>
<g clip-path="url(#c4)">
<path d="M413.70,356.44 L415.04,360.81 L416.37,365.01 L417.71,369.07 L419.04,372.99 L420.38,376.78 L421.71,380.46 L423.05,384.02 L424.38,387.48 L425.72,390.85 L427.05,394.12 L428.39,397.30 L429.72,400.40 L431.06,403.43 L432.39,406.38 L433.73,409.27 L435.06,412.08 L436.40,414.84 L437.73,417.54 L439.07,420.17 L440.40,422.76 L441.74,425.29 L443.07,427.78 L444.41,430.21 L445.74,432.60 L447.08,434.95 L448.41,437.25 L449.75,439.52 L451.08,441.74 L452.42,443.93 L453.76,446.08 L455.09,448.19 L456.43,450.27 L457.76,452.32 L459.10,454.33 L460.43,456.31 L461.77,458.26 L463.10,460.19 L464.44,462.08 L465.77,463.94 L467.11,465.78 L468.44,467.59 L469.78,469.38 L471.11,471.14 L472.45,472.87 L473.78,474.58 L475.12,476.26 L476.45,477.93 L477.79,479.57 L479.12,481.18 L480.46,482.78 L481.79,484.35 L483.13,485.90 L484.46,487.43 L485.80,488.95 L487.13,490.44 L488.47,491.91 L489.81,493.36 L491.14,494.79 L492.48,496.21 L493.81,497.61 L495.15,498.99 L496.48,500.35 L497.82,501.69 L499.15,503.02 L500.49,504.33 L501.82,505.62 L503.16,506.90 L504.49,508.16 L505.83,509.41 L507.16,510.64 L508.50,511.86 L509.83,513.06 L511.17,514.24 L512.50,515.42 L513.84,516.57 L515.17,517.72 L516.51,518.85 L517.84,519.96 L519.18,521.07 L520.51,522.16 L521.85,523.23 L523.18,524.30 L524.52,525.35 L525.85,526.39 L527.19,527.41 L528.53,528.43 L529.86,529.43 L531.20,530.42 L532.53,531.40 L533.87,532.37 L535.20,533.32 L536.54,534.27 L537.87,535.20 L539.21,536.13 L540.54,537.04 L541.88,537.95 L543.21,538.84 L544.55,539.72 L545.88,540.59 L547.22,541.46 L548.55,542.31 L549.89,543.15 L551.22,543.99 L552.56,544.81 L553.89,545.63 L555.23,546.43 L556.56,547.23 L557.90,548.02 L559.23,548.80 L560.57,549.57 L561.90,550.33 L563.24,551.09 L564.57,551.84 L565.91,552.57 L567.25,553.30 L568.58,554.03 L569.92,554.74 L571.25,555.45 L572.59,556.15 L573.92,556.84 L575.26,557.52 L576.59,558.20 L577.93,558.87 L579.26,559.54 L580.60,560.19 L581.93,560.84 L583.27,561.48 L584.60,562.12 L585.94,562.75 L587.27,563.37 L588.61,563.99 L589.94,564.60 L591.28,565.20 L592.61,565.80 L593.95,566.39 L595.28,566.97 L596.62,567.55 L597.95,568.13 L599.29,568.69 L600.62,569.26 L601.96,569.81 L603.29,570.36 L604.63,570.91 L605.97,571.45 L607.30,571.98 L608.64,572.51 L609.97,573.04 L611.31,573.55 L612.64,574.07 L613.98,574.58 L615.31,575.08 L616.65,575.58 L617.98,576.07 L619.32,576.56 L620.65,577.05 L621.99,577.53 L623.32,578.00 L624.66,578.47 L625.99,578.94 L627.33,579.40 L628.66,579.86 L630.00,580.31 L631.33,580.76 L632.67,581.20 L634.00,581.64 L635.34,582.08 L636.67,582.51 L638.01,582.94 L639.34,583.36 L640.68,583.78 L642.02,584.20 L643.35,584.61 L644.69,585.02 L646.02,585.42 L647.36,585.83 L648.69,586.22 L650.03,586.62 L651.36,587.01 L652.70,587.39 L654.03,587.78 L655.37,588.16 L656.70,588.53 L658.04,588.91 L659.37,589.28 L660.71,589.64 L662.04,590.01 L663.38,590.37 L664.71,590.72 L666.05,591.08 L667.38,591.43 L668.72,591.78 L670.05,592.12 L671.39,592.46 L672.72,592.80 L674.06,593.14 L675.39,593.47 L676.73,593.80 L678.06,594.13 L679.40,594.45 L679.40,605.57 L678.06,605.29 L676.73,605.01 L675.39,604.73 L674.06,604.45 L672.72,604.16 L671.39,603.87 L670.05,603.58 L668.72,603.29 L667.38,602.99 L666.05,602.69 L664.71,602.39 L663.38,602.09 L662.04,601.78 L660.71,601.47 L659.37,601.16 L658.04,600.84 L656.70,600.52 L655.37,600.20 L654.03,599.88 L652.70,599.55 L651.36,599.22 L650.03,598.89 L648.69,598.56 L647.36,598.22 L646.02,597.88 L644.69,597.53 L643.35,597.18 L642.02,596.83 L640.68,596.48 L639.34,596.12 L638.01,595.76 L636.67,595.39 L635.34,595.03 L634.00,594.66 L632.67,594.28 L631.33,593.90 L630.00,593.52 L628.66,593.13 L627.33,592.75 L625.99,592.35 L624.66,591.96 L623.32,591.55 L621.99,591.15 L620.65,590.74 L619.32,590.33 L617.98,589.91 L616.65,589.49 L615.31,589.07 L613.98,588.64 L612.64,588.21 L611.31,587.77 L609.97,587.33 L608.64,586.88 L607.30,586.43 L605.97,585.98 L604.63,585.52 L603.29,585.05 L601.96,584.58 L600.62,584.11 L599.29,583.63 L597.95,583.15 L596.62,582.66 L595.28,582.17 L593.95,581.67 L592.61,581.16 L591.28,580.66 L589.94,580.14 L588.61,579.62 L587.27,579.10 L585.94,578.57 L584.60,578.03 L583.27,577.49 L581.93,576.94 L580.60,576.39 L579.26,575.83 L577.93,575.27 L576.59,574.70 L575.26,574.12 L573.92,573.54 L572.59,572.95 L571.25,572.35 L569.92,571.75 L568.58,571.14 L567.25,570.53 L565.91,569.91 L564.57,569.28 L563.24,568.64 L561.90,568.00 L560.57,567.35 L559.23,566.69 L557.90,566.03 L556.56,565.36 L555.23,564.68 L553.89,563.99 L552.56,563.30 L551.22,562.60 L549.89,561.89 L548.55,561.17 L547.22,560.44 L545.88,559.71 L544.55,558.96 L543.21,558.21 L541.88,557.45 L540.54,556.68 L539.21,555.91 L537.87,555.12 L536.54,554.32 L535.20,553.52 L533.87,552.71 L532.53,551.88 L531.20,551.05 L529.86,550.21 L528.53,549.35 L527.19,548.49 L525.85,547.61 L524.52,546.73 L523.18,545.84 L521.85,544.93 L520.51,544.02 L519.18,543.09 L517.84,542.15 L516.51,541.20 L515.17,540.24 L513.84,539.27 L512.50,538.28 L511.17,537.28 L509.83,536.27 L508.50,535.25 L507.16,534.22 L505.83,533.17 L504.49,532.11 L503.16,531.04 L501.82,529.95 L500.49,528.85 L499.15,527.73 L497.82,526.60 L496.48,525.46 L495.15,524.30 L493.81,523.13 L492.48,521.94 L491.14,520.74 L489.81,519.52 L488.47,518.28 L487.13,517.03 L485.80,515.76 L484.46,514.47 L483.13,513.17 L481.79,511.85 L480.46,510.51 L479.12,509.16 L477.79,507.78 L476.45,506.39 L475.12,504.97 L473.78,503.54 L472.45,502.09 L471.11,500.61 L469.78,499.12 L468.44,497.60 L467.11,496.06 L465.77,494.50 L464.44,492.91 L463.10,491.30 L461.77,489.67 L460.43,488.01 L459.10,486.32 L457.76,484.61 L456.43,482.87 L455.09,481.10 L453.76,479.30 L452.42,477.48 L451.08,475.62 L449.75,473.73 L448.41,471.80 L447.08,469.84 L445.74,467.85 L444.41,465.81 L443.07,463.74 L441.74,461.63 L440.40,459.48 L439.07,457.28 L437.73,455.04 L436.40,452.74 L435.06,450.40 L433.73,448.00 L432.39,445.55 L431.06,443.04 L429.72,440.47 L428.39,437.83 L427.05,435.12 L425.72,432.34 L424.38,429.48 L423.05,426.54 L421.71,423.51 L420.38,420.38 L419.04,417.16 L417.71,413.82 L416.37,410.37 L415.04,406.80 L413.70,403.09 Z" fill="#ff0000" fill-opacity="0.1"/>
<path d="M413.70,356.44 L415.04,360.81 L416.37,365.01 L417.71,369.07 L419.04,372.99 L420.38,376.78 L421.71,380.46 L423.05,384.02 L424.38,387.48 L425.72,390.85 L427.05,394.12 L428.39,397.30 L429.72,400.40 L431.06,403.43 L432.39,406.38 L433.73,409.27 L435.06,412.08 L436.40,414.84 L437.73,417.54 L439.07,420.17 L440.40,422.76 L441.74,425.29 L443.07,427.78 L444.41,430.21 L445.74,432.60 L447.08,434.95 L448.41,437.25 L449.75,439.52 L451.08,441.74 L452.42,443.93 L453.76,446.08 L455.09,448.19 L456.43,450.27 L457.76,452.32 L459.10,454.33 L460.43,456.31 L461.77,458.26 L463.10,460.19 L464.44,462.08 L465.77,463.94 L467.11,465.78 L468.44,467.59 L469.78,469.38 L471.11,471.14 L472.45,472.87 L473.78,474.58 L475.12,476.26 L476.45,477.93 L477.79,479.57 L479.12,481.18 L480.46,482.78 L481.79,484.35 L483.13,485.90 L484.46,487.43 L485.80,488.95 L487.13,490.44 L488.47,491.91 L489.81,493.36 L491.14,494.79 L492.48,496.21 L493.81,497.61 L495.15,498.99 L496.48,500.35 L497.82,501.69 L499.15,503.02 L500.49,504.33 L501.82,505.62 L503.16,506.90 L504.49,508.16 L505.83,509.41 L507.16,510.64 L508.50,511.86 L509.83,513.06 L511.17,514.24 L512.50,515.42 L513.84,516.57 L515.17,517.72 L516.51,518.85 L517.84,519.96 L519.18,521.07 L520.51,522.16 L521.85,523.23 L523.18,524.30 L524.52,525.35 L525.85,526.39 L527.19,527.41 L528.53,528.43 L529.86,529.43 L531.20,530.42 L532.53,531.40 L533.87,532.37 L535.20,533.32 L536.54,534.27 L537.87,535.20 L539.21,536.13 L540.54,537.04 L541.88,537.95 L543.21,538.84 L544.55,539.72 L545.88,540.59 L547.22,541.46 L548.55,542.31 L549.89,543.15 L551.22,543.99 L552.56,544.81 L553.89,545.63 L555.23,546.43 L556.56,547.23 L557.90,548.02 L559.23,548.80 L560.57,549.57 L561.90,550.33 L563.24,551.09 L564.57,551.84 L565.91,552.57 L567.25,553.30 L568.58,554.03 L569.92,554.74 L571.25,555.45 L572.59,556.15 L573.92,556.84 L575.26,557.52 L576.59,558.20 L577.93,558.87 L579.26,559.54 L580.60,560.19 L581.93,560.84 L583.27,561.48 L584.60,562.12 L585.94,562.75 L587.27,563.37 L588.61,563.99 L589.94,564.60 L591.28,565.20 L592.61,565.80 L593.95,566.39 L595.28,566.97 L596.62,567.55 L597.95,568.13 L599.29,568.69 L600.62,569.26 L601.96,569.81 L603.29,570.36 L604.63,570.91 L605.97,571.45 L607.30,571.98 L608.64,572.51 L609.97,573.04 L611.31,573.55 L612.64,574.07 L613.98,574.58 L615.31,575.08 L616.65,575.58 L617.98,576.07 L619.32,576.56 L620.65,577.05 L621.99,577.53 L623.32,578.00 L624.66,578.47 L625.99,578.94 L627.33,579.40 L628.66,579.86 L630.00,580.31 L631.33,580.76 L632.67,581.20 L634.00,581.64 L635.34,582.08 L636.67,582.51 L638.01,582.94 L639.34,583.36 L640.68,583.78 L642.02,584.20 L643.35,584.61 L644.69,585.02 L646.02,585.42 L647.36,585.83 L648.69,586.22 L650.03,586.62 L651.36,587.01 L652.70,587.39 L654.03,587.78 L655.37,588.16 L656.70,588.53 L658.04,588.91 L659.37,589.28 L660.71,589.64 L662.04,590.01 L663.38,590.37 L664.71,590.72 L666.05,591.08 L667.38,591.43 L668.72,591.78 L670.05,592.12 L671.39,592.46 L672.72,592.80 L674.06,593.14 L675.39,593.47 L676.73,593.80 L678.06,594.13 L679.40,594.45 L679.40,605.57 L678.06,605.29 L676.73,605.01 L675.39,604.73 L674.06,604.45 L672.72,604.16 L671.39,603.87 L670.05,603.58 L668.72,603.29 L667.38,602.99 L666.05,602.69 L664.71,602.39 L663.38,602.09 L662.04,601.78 L660.71,601.47 L659.37,601.16 L658.04,600.84 L656.70,600.52 L655.37,600.20 L654.03,599.88 L652.70,599.55 L651.36,599.22 L650.03,598.89 L648.69,598.56 L647.36,598.22 L646.02,597.88 L644.69,597.53 L643.35,597.18 L642.02,596.83 L640.68,596.48 L639.34,596.12 L638.01,595.76 L636.67,595.39 L635.34,595.03 L634.00,594.66 L632.67,594.28 L631.33,593.90 L630.00,593.52 L628.66,593.13 L627.33,592.75 L625.99,592.35 L624.66,591.96 L623.32,591.55 L621.99,591.15 L620.65,590.74 L619.32,590.33 L617.98,589.91 L616.65,589.49 L615.31,589.07 L613.98,588.64 L612.64,588.21 L611.31,587.77 L609.97,587.33 L608.64,586.88 L607.30,586.43 L605.97,585.98 L604.63,585.52 L603.29,585.05 L601.96,584.58 L600.62,584.11 L599.29,583.63 L597.95,583.15 L596.62,582.66 L595.28,582.17 L593.95,581.67 L592.61,581.16 L591.28,580.66 L589.94,580.14 L588.61,579.62 L587.27,579.10 L585.94,578.57 L584.60,578.03 L583.27,577.49 L581.93,576.94 L580.60,576.39 L579.26,575.83 L577.93,575.27 L576.59,574.70 L575.26,574.12 L573.92,573.54 L572.59,572.95 L571.25,572.35 L569.92,571.75 L568.58,571.14 L567.25,570.53 L565.91,569.91 L564.57,569.28 L563.24,568.64 L561.90,568.00 L560.57,567.35 L559.23,566.69 L557.90,566.03 L556.56,565.36 L555.23,564.68 L553.89,563.99 L552.56,563.30 L551.22,562.60 L549.89,561.89 L548.55,561.17 L547.22,560.44 L545.88,559.71 L544.55,558.96 L543.21,558.21 L541.88,557.45 L540.54,556.68 L539.21,555.91 L537.87,555.12 L536.54,554.32 L535.20,553.52 L533.87,552.71 L532.53,551.88 L531.20,551.05 L529.86,550.21 L528.53,549.35 L527.19,548.49 L525.85,547.61 L524.52,546.73 L523.18,545.84 L521.85,544.93 L520.51,544.02 L519.18,543.09 L517.84,542.15 L516.51,541.20 L515.17,540.24 L513.84,539.27 L512.50,538.28 L511.17,537.28 L509.83,536.27 L508.50,535.25 L507.16,534.22 L505.83,533.17 L504.49,532.11 L503.16,531.04 L501.82,529.95 L500.49,528.85 L499.15,527.73 L497.82,526.60 L496.48,525.46 L495.15,524.30 L493.81,523.13 L492.48,521.94 L491.14,520.74 L489.81,519.52 L488.47,518.28 L487.13,517.03 L485.80,515.76 L484.46,514.47 L483.13,513.17 L481.79,511.85 L480.46,510.51 L479.12,509.16 L477.79,507.78 L476.45,506.39 L475.12,504.97 L473.78,503.54 L472.45,502.09 L471.11,500.61 L469.78,499.12 L468.44,497.60 L467.11,496.06 L465.77,494.50 L464.44,492.91 L463.10,491.30 L461.77,489.67 L460.43,488.01 L459.10,486.32 L457.76,484.61 L456.43,482.87 L455.09,481.10 L453.76,479.30 L452.42,477.48 L451.08,475.62 L449.75,473.73 L448.41,471.80 L447.08,469.84 L445.74,467.85 L444.41,465.81 L443.07,463.74 L441.74,461.63 L440.40,459.48 L439.07,457.28 L437.73,455.04 L436.40,452.74 L435.06,450.40 L433.73,448.00 L432.39,445.55 L431.06,443.04 L429.72,440.47 L428.39,437.83 L427.05,435.12 L425.72,432.34 L424.38,429.48 L423.05,426.54 L421.71,423.51 L420.38,420.38 L419.04,417.16 L417.71,413.82 L416.37,410.37 L415.04,406.80 L413.70,403.09 Z" fill="#008000" fill-opacity="0.1"/>
<line x1="413.70" y1="343.00" x2="413.70" y2="619.20" stroke="#b0b0b0" stroke-opacity="0.6" stroke-width="0.8" stroke-dasharray="2.0 0.8"/>
<line x1="480.12" y1="343.00" x2="480.12" y2="619.20" stroke="#b0b0b0" stroke-opacity="0.6" stroke-width="0.8" stroke-dasharray="2.0 0.8"/>
<line x1="546.55" y1="343.00" x2="546.55" y2="619.20" stroke="#b0b0b0" stroke-opacity="0.6" stroke-width="0.8" stroke-dasharray="2.0 0.8"/>
<line x1="612.97" y1="343.00" x2="612.97" y2="619.20" stroke="#b0b0b0" stroke-opacity="0.6" stroke-width="0.8" stroke-dasharray="2.0 0.8"/>
<line x1="679.40" y1="343.00" x2="679.40" y2="619.20" stroke="#b0b0b0" stroke-opacity="0.6" stroke-width="0.8" stroke-dasharray="2.0 0.8"/>
<line x1="413.70" y1="588.50" x2="679.40" y2="588.50" stroke="#b0b0b0" stroke-opacity="0.6" stroke-width="0.8" stroke-dasharray="2.0 0.8"/>
<line x1="413.70" y1="545.44" x2="679.40" y2="545.44" stroke="#b0b0b0" stroke-opacity="0.6" stroke-width="0.8" stroke-dasharray="2.0 0.8"/>
<line x1="413.70" y1="502.38" x2="679.40" y2="502.38" stroke="#b0b0b0" stroke-opacity="0.6" stroke-width="0.8" stroke-dasharray="2.0 0.8"/>
<line x1="413.70" y1="459.32" x2="679.40" y2="459.32" stroke="#b0b0b0" stroke-opacity="0.6" stroke-width="0.8" stroke-dasharray="2.0 0.8"/>
<line x1="413.70" y1="416.26" x2="679.40" y2="416.26" stroke="#b0b0b0" stroke-opacity="0.6" stroke-width="0.8" stroke-dasharray="2.0 0.8"/>
<line x1="413.70" y1="373.20" x2="679.40" y2="373.20" stroke="#b0b0b0" stroke-opacity="0.6" stroke-width="0.8" stroke-dasharray="2.0 0.8"/>
<path d="M413.70,377.54 L415.04,381.62 L416.37,385.55 L417.71,389.34 L419.04,393.01 L420.38,396.55 L421.71,399.99 L423.05,403.32 L424.38,406.56 L425.72,409.70 L427.05,412.76 L428.39,415.74 L429.72,418.64 L431.06,421.47 L432.39,424.23 L433.73,426.93 L435.06,429.56 L436.40,432.14 L437.73,434.66 L439.07,437.13 L440.40,439.54 L441.74,441.91 L443.07,444.24 L444.41,446.51 L445.74,448.75 L447.08,450.94 L448.41,453.10 L449.75,455.21 L451.08,457.29 L452.42,459.34 L453.76,461.35 L455.09,463.32 L456.43,465.27 L457.76,467.18 L459.10,469.06 L460.43,470.92 L461.77,472.74 L463.10,474.54 L464.44,476.31 L465.77,478.05 L467.11,479.77 L468.44,481.47 L469.78,483.13 L471.11,484.78 L472.45,486.40 L473.78,488.00 L475.12,489.57 L476.45,491.13 L477.79,492.66 L479.12,494.17 L480.46,495.66 L481.79,497.13 L483.13,498.58 L484.46,500.02 L485.80,501.43 L487.13,502.82 L488.47,504.20 L489.81,505.56 L491.14,506.90 L492.48,508.22 L493.81,509.53 L495.15,510.82 L496.48,512.09 L497.82,513.35 L499.15,514.59 L500.49,515.81 L501.82,517.02 L503.16,518.22 L504.49,519.40 L505.83,520.56 L507.16,521.71 L508.50,522.85 L509.83,523.97 L511.17,525.08 L512.50,526.18 L513.84,527.26 L515.17,528.33 L516.51,529.38 L517.84,530.43 L519.18,531.46 L520.51,532.48 L521.85,533.48 L523.18,534.48 L524.52,535.46 L525.85,536.43 L527.19,537.39 L528.53,538.34 L529.86,539.28 L531.20,540.20 L532.53,541.12 L533.87,542.02 L535.20,542.92 L536.54,543.80 L537.87,544.67 L539.21,545.54 L540.54,546.39 L541.88,547.24 L543.21,548.07 L544.55,548.89 L545.88,549.71 L547.22,550.52 L548.55,551.31 L549.89,552.10 L551.22,552.88 L552.56,553.65 L553.89,554.42 L555.23,555.17 L556.56,555.91 L557.90,556.65 L559.23,557.38 L560.57,558.10 L561.90,558.81 L563.24,559.52 L564.57,560.22 L565.91,560.91 L567.25,561.59 L568.58,562.27 L569.92,562.93 L571.25,563.59 L572.59,564.25 L573.92,564.90 L575.26,565.54 L576.59,566.17 L577.93,566.79 L579.26,567.41 L580.60,568.03 L581.93,568.63 L583.27,569.23 L584.60,569.83 L585.94,570.42 L587.27,571.00 L588.61,571.57 L589.94,572.14 L591.28,572.71 L592.61,573.27 L593.95,573.82 L595.28,574.37 L596.62,574.91 L597.95,575.44 L599.29,575.97 L600.62,576.50 L601.96,577.02 L603.29,577.53 L604.63,578.04 L605.97,578.55 L607.30,579.05 L608.64,579.54 L609.97,580.03 L611.31,580.52 L612.64,581.00 L613.98,581.47 L615.31,581.94 L616.65,582.41 L617.98,582.87 L619.32,583.33 L620.65,583.78 L621.99,584.23 L623.32,584.67 L624.66,585.11 L625.99,585.55 L627.33,585.98 L628.66,586.40 L630.00,586.83 L631.33,587.25 L632.67,587.66 L634.00,588.07 L635.34,588.48 L636.67,588.88 L638.01,589.28 L639.34,589.68 L640.68,590.07 L642.02,590.46 L643.35,590.85 L644.69,591.23 L646.02,591.61 L647.36,591.98 L648.69,592.35 L650.03,592.72 L651.36,593.09 L652.70,593.45 L654.03,593.81 L655.37,594.16 L656.70,594.51 L658.04,594.86 L659.37,595.21 L660.71,595.55 L662.04,595.89 L663.38,596.23 L664.71,596.56 L666.05,596.89 L667.38,597.22 L668.72,597.55 L670.05,597.87 L671.39,598.19 L672.72,598.50 L674.06,598.82 L675.39,599.13 L676.73,599.44 L678.06,599.74 L679.40,600.05" fill="none" stroke="#ff0000" stroke-width="1.77"/>
<path d="M413.70,377.54 L415.04,381.62 L416.37,385.55 L417.71,389.34 L419.04,393.01 L420.38,396.55 L421.71,399.99 L423.05,403.32 L424.38,406.56 L425.72,409.70 L427.05,412.76 L428.39,415.74 L429.72,418.64 L431.06,421.47 L432.39,424.23 L433.73,426.93 L435.06,429.56 L436.40,432.14 L437.73,434.66 L439.07,437.13 L440.40,439.54 L441.74,441.91 L443.07,444.24 L444.41,446.51 L445.74,448.75 L447.08,450.94 L448.41,453.10 L449.75,455.21 L451.08,457.29 L452.42,459.34 L453.76,461.35 L455.09,463.32 L456.43,465.27 L457.76,467.18 L459.10,469.06 L460.43,470.92 L461.77,472.74 L463.10,474.54 L464.44,476.31 L465.77,478.05 L467.11,479.77 L468.44,481.47 L469.78,483.13 L471.11,484.78 L472.45,486.40 L473.78,488.00 L475.12,489.57 L476.45,491.13 L477.79,492.66 L479.12,494.17 L480.46,495.66 L481.79,497.13 L483.13,498.58 L484.46,500.02 L485.80,501.43 L487.13,502.82 L488.47,504.20 L489.81,505.56 L491.14,506.90 L492.48,508.22 L493.81,509.53 L495.15,510.82 L496.48,512.09 L497.82,513.35 L499.15,514.59 L500.49,515.81 L501.82,517.02 L503.16,518.22 L504.49,519.40 L505.83,520.56 L507.16,521.71 L508.50,522.85 L509.83,523.97 L511.17,525.08 L512.50,526.18 L513.84,527.26 L515.17,528.33 L516.51,529.38 L517.84,530.43 L519.18,531.46 L520.51,532.48 L521.85,533.48 L523.18,534.48 L524.52,535.46 L525.85,536.43 L527.19,537.39 L528.53,538.34 L529.86,539.28 L531.20,540.20 L532.53,541.12 L533.87,542.02 L535.20,542.92 L536.54,543.80 L537.87,544.67 L539.21,545.54 L540.54,546.39 L541.88,547.24 L543.21,548.07 L544.55,548.89 L545.88,549.71 L547.22,550.52 L548.55,551.31 L549.89,552.10 L551.22,552.88 L552.56,553.65 L553.89,554.42 L555.23,555.17 L556.56,555.91 L557.90,556.65 L559.23,557.38 L560.57,558.10 L561.90,558.81 L563.24,559.52 L564.57,560.22 L565.91,560.91 L567.25,561.59 L568.58,562.27 L569.92,562.93 L571.25,563.59 L572.59,564.25 L573.92,564.90 L575.26,565.54 L576.59,566.17 L577.93,566.79 L579.26,567.41 L580.60,568.03 L581.93,568.63 L583.27,569.23 L584.60,569.83 L585.94,570.42 L587.27,571.00 L588.61,571.57 L589.94,572.14 L591.28,572.71 L592.61,573.27 L593.95,573.82 L595.28,574.37 L596.62,574.91 L597.95,575.44 L599.29,575.97 L600.62,576.50 L601.96,577.02 L603.29,577.53 L604.63,578.04 L605.97,578.55 L607.30,579.05 L608.64,579.54 L609.97,580.03 L611.31,580.52 L612.64,581.00 L613.98,581.47 L615.31,581.94 L616.65,582.41 L617.98,582.87 L619.32,583.33 L620.65,583.78 L621.99,584.23 L623.32,584.67 L624.66,585.11 L625.99,585.55 L627.33,585.98 L628.66,586.40 L630.00,586.83 L631.33,587.25 L632.67,587.66 L634.00,588.07 L635.34,588.48 L636.67,588.88 L638.01,589.28 L639.34,589.68 L640.68,590.07 L642.02,590.46 L643.35,590.85 L644.69,591.23 L646.02,591.61 L647.36,591.98 L648.69,592.35 L650.03,592.72 L651.36,593.09 L652.70,593.45 L654.03,593.81 L655.37,594.16 L656.70,594.51 L658.04,594.86 L659.37,595.21 L660.71,595.55 L662.04,595.89 L663.38,596.23 L664.71,596.56 L666.05,596.89 L667.38,597.22 L668.72,597.55 L670.05,597.87 L671.39,598.19 L672.72,598.50 L674.06,598.82 L675.39,599.13 L676.73,599.44 L678.06,599.74 L679.40,600.05" fill="none" stroke="#008000" stroke-width="1.77" stroke-dasharray="6.55 2.83"/>
</g>
<line x1="413.70" y1="619.20" x2="413.70" y2="623.30" stroke="#000" stroke-width="1.15"/>
<text x="407.80" y="635.60" font-size="11.6" textLength="11.80" lengthAdjust="spacingAndGlyphs">20</text>
<line x1="480.12" y1="619.20" x2="480.12" y2="623.30" stroke="#000" stroke-width="1.15"/>
<text x="474.23" y="635.60" font-size="11.6" textLength="11.80" lengthAdjust="spacingAndGlyphs">30</text>
<line x1="546.55" y1="619.20" x2="546.55" y2="623.30" stroke="#000" stroke-width="1.15"/>
<text x="540.65" y="635.60" font-size="11.6" textLength="11.80" lengthAdjust="spacingAndGlyphs">40</text>
<line x1="612.97" y1="619.20" x2="612.97" y2="623.30" stroke="#000" stroke-width="1.15"/>
<text x="607.07" y="635.60" font-size="11.6" textLength="11.80" lengthAdjust="spacingAndGlyphs">50</text>
<line x1="679.40" y1="619.20" x2="679.40" y2="623.30" stroke="#000" stroke-width="1.15"/>
<text x="673.50" y="635.60" font-size="11.6" textLength="11.80" lengthAdjust="spacingAndGlyphs">60</text>
<line x1="409.60" y1="588.50" x2="413.70" y2="588.50" stroke="#000" stroke-width="1.15"/>
<text x="393.70" y="592.60" font-size="11.6" textLength="11.80" lengthAdjust="spacingAndGlyphs">10</text>
<line x1="409.60" y1="545.44" x2="413.70" y2="545.44" stroke="#000" stroke-width="1.15"/>
<text x="393.70" y="549.54" font-size="11.6" textLength="11.80" lengthAdjust="spacingAndGlyphs">15</text>
<line x1="409.60" y1="502.38" x2="413.70" y2="502.38" stroke="#000" stroke-width="1.15"/>
<text x="393.70" y="506.48" font-size="11.6" textLength="11.80" lengthAdjust="spacingAndGlyphs">20</text>
<line x1="409.60" y1="459.32" x2="413.70" y2="459.32" stroke="#000" stroke-width="1.15"/>
<text x="393.70" y="463.42" font-size="11.6" textLength="11.80" lengthAdjust="spacingAndGlyphs">25</text>
<line x1="409.60" y1="416.26" x2="413.70" y2="416.26" stroke="#000" stroke-width="1.15"/>
<text x="393.70" y="420.36" font-size="11.6" textLength="11.80" lengthAdjust="spacingAndGlyphs">30</text>
<line x1="409.60" y1="373.20" x2="413.70" y2="373.20" stroke="#000" stroke-width="1.15"/>
<text x="393.70" y="377.30" font-size="11.6" textLength="11.80" lengthAdjust="spacingAndGlyphs">35</text>
<rect x="413.70" y="343.00" width="265.70" height="276.20" fill="none" stroke="#000" stroke-width="1.15"/>
<text x="0" y="0" font-size="11.6" font-style="italic" transform="translate(517.95,655.60) scale(1.32,1)">m</text>
<text x="530.55" y="657.60" font-size="8.6" font-style="italic">A</text>
<line x1="542.35" y1="658.00" x2="547.15" y2="647.60" stroke="#1e1e1e" stroke-width="0.85"/>
<text x="552.35" y="655.60" font-size="12.1" textLength="24.6" lengthAdjust="spacingAndGlyphs">GeV</text>
<g transform="translate(379.80,506.00) rotate(-90)">
<text x="-0.35" y="0" font-size="11.6" font-style="italic" transform="scale(1.1,1)">a</text>
<text x="6.2" y="-4.7" font-size="8.8" textLength="5.3" lengthAdjust="spacingAndGlyphs">F</text>
<text x="6.4" y="2.1" font-size="8.4" font-style="italic">μ</text>
<text x="17.30" y="1.7" font-size="14.8">×</text>
<text x="29.30" y="0" font-size="11.8" textLength="12.0" lengthAdjust="spacingAndGlyphs">10</text>
<text x="41.70" y="-4.6" font-size="8.6" textLength="10.4" lengthAdjust="spacingAndGlyphs">10</text>
</g>
<rect x="551.70" y="348.80" width="121.60" height="55.20" rx="2.2" ry="2.2" fill="#fff" stroke="#000" stroke-width="1.4"/>
<text x="574.13" y="362.50" font-size="11.2" textLength="36.09" lengthAdjust="spacingAndGlyphs">flavour</text>
<text x="614.16" y="362.50" font-size="11.2" textLength="36.71" lengthAdjust="spacingAndGlyphs">aligned</text>
<line x1="555.4" y1="375.8" x2="580.9" y2="375.8" stroke="#ff0000" stroke-width="1.77"/>
<line x1="555.4" y1="393.2" x2="580.9" y2="393.2" stroke="#008000" stroke-width="1.77" stroke-dasharray="6.55 2.83"/>
<text x="589.80" y="380.00" font-size="10.9" textLength="40.02" lengthAdjust="spacingAndGlyphs">running</text>
<text x="633.76" y="380.00" font-size="10.9" textLength="34.94" lengthAdjust="spacingAndGlyphs">masses</text>
<text x="589.80" y="397.40" font-size="10.9" textLength="27.54" lengthAdjust="spacingAndGlyphs">input</text>
<text x="621.27" y="397.40" font-size="10.9" textLength="34.94" lengthAdjust="spacingAndGlyphs">masses</text>
</svg>
</body></html>
